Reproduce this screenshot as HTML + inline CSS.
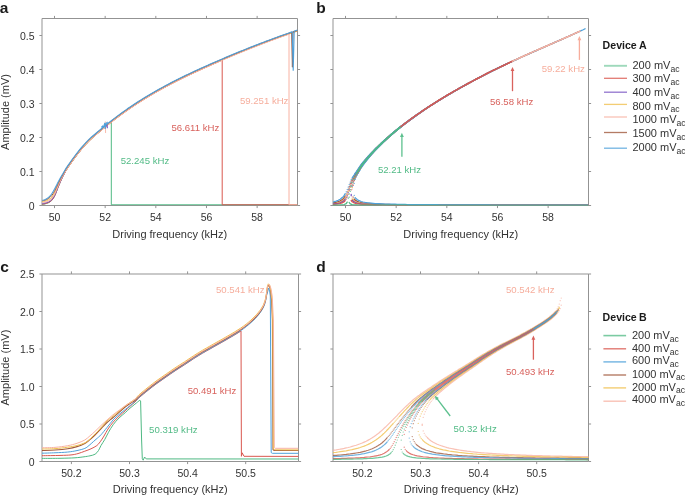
<!DOCTYPE html>
<html><head><meta charset="utf-8"><style>
html,body{margin:0;padding:0;background:#fff;width:685px;height:496px;overflow:hidden}
svg{display:block;will-change:transform}
text{font-family:"Liberation Sans",sans-serif}
</style></head><body>
<svg width="685" height="496" viewBox="0 0 685 496">
<rect width="685" height="496" fill="#fff"/>
<defs><clipPath id="ca"><rect x="42" y="18.5" width="255.5" height="187"/></clipPath><clipPath id="cb"><rect x="333" y="18.5" width="255.5" height="187"/></clipPath><clipPath id="cc"><rect x="42" y="274" width="256.5" height="187.5"/></clipPath><clipPath id="cd"><rect x="333" y="274" width="255.5" height="187.5"/></clipPath></defs>
<g font-family="Liberation Sans, sans-serif">
<text x="-0.3" y="12.9" font-size="15.5" fill="#1a1a1a" text-anchor="start" font-weight="bold" >a</text>
<text x="316.3" y="12.9" font-size="15.5" fill="#1a1a1a" text-anchor="start" font-weight="bold" >b</text>
<text x="0.2" y="272" font-size="15.5" fill="#1a1a1a" text-anchor="start" font-weight="bold" >c</text>
<text x="316.3" y="272.1" font-size="15.5" fill="#1a1a1a" text-anchor="start" font-weight="bold" >d</text>
<line x1="42" y1="18.5" x2="42" y2="205.5" stroke="#939393" stroke-width="1.0" />
<line x1="42" y1="205.5" x2="297.5" y2="205.5" stroke="#939393" stroke-width="1.0" />
<line x1="297.5" y1="18.5" x2="297.5" y2="205.5" stroke="#939393" stroke-width="1.0" />
<line x1="42" y1="18.5" x2="297.5" y2="18.5" stroke="#939393" stroke-width="1.0" />
<line x1="54.5" y1="205.5" x2="54.5" y2="208.1" stroke="#939393" stroke-width="1.0" />
<line x1="54.5" y1="18.5" x2="54.5" y2="15.9" stroke="#939393" stroke-width="1.0" />
<line x1="105.16" y1="205.5" x2="105.16" y2="208.1" stroke="#939393" stroke-width="1.0" />
<line x1="105.16" y1="18.5" x2="105.16" y2="15.9" stroke="#939393" stroke-width="1.0" />
<line x1="155.82" y1="205.5" x2="155.82" y2="208.1" stroke="#939393" stroke-width="1.0" />
<line x1="155.82" y1="18.5" x2="155.82" y2="15.9" stroke="#939393" stroke-width="1.0" />
<line x1="206.48" y1="205.5" x2="206.48" y2="208.1" stroke="#939393" stroke-width="1.0" />
<line x1="206.48" y1="18.5" x2="206.48" y2="15.9" stroke="#939393" stroke-width="1.0" />
<line x1="257.14" y1="205.5" x2="257.14" y2="208.1" stroke="#939393" stroke-width="1.0" />
<line x1="257.14" y1="18.5" x2="257.14" y2="15.9" stroke="#939393" stroke-width="1.0" />
<line x1="42" y1="205.5" x2="39.4" y2="205.5" stroke="#939393" stroke-width="1.0" />
<line x1="297.5" y1="205.5" x2="300.1" y2="205.5" stroke="#939393" stroke-width="1.0" />
<line x1="42" y1="171.5" x2="39.4" y2="171.5" stroke="#939393" stroke-width="1.0" />
<line x1="297.5" y1="171.5" x2="300.1" y2="171.5" stroke="#939393" stroke-width="1.0" />
<line x1="42" y1="137.5" x2="39.4" y2="137.5" stroke="#939393" stroke-width="1.0" />
<line x1="297.5" y1="137.5" x2="300.1" y2="137.5" stroke="#939393" stroke-width="1.0" />
<line x1="42" y1="103.5" x2="39.4" y2="103.5" stroke="#939393" stroke-width="1.0" />
<line x1="297.5" y1="103.5" x2="300.1" y2="103.5" stroke="#939393" stroke-width="1.0" />
<line x1="42" y1="69.5" x2="39.4" y2="69.5" stroke="#939393" stroke-width="1.0" />
<line x1="297.5" y1="69.5" x2="300.1" y2="69.5" stroke="#939393" stroke-width="1.0" />
<line x1="42" y1="35.5" x2="39.4" y2="35.5" stroke="#939393" stroke-width="1.0" />
<line x1="297.5" y1="35.5" x2="300.1" y2="35.5" stroke="#939393" stroke-width="1.0" />
<line x1="333" y1="18.5" x2="333" y2="205.5" stroke="#939393" stroke-width="1.0" />
<line x1="333" y1="205.5" x2="588.5" y2="205.5" stroke="#939393" stroke-width="1.0" />
<line x1="588.5" y1="18.5" x2="588.5" y2="205.5" stroke="#939393" stroke-width="1.0" />
<line x1="333" y1="18.5" x2="588.5" y2="18.5" stroke="#939393" stroke-width="1.0" />
<line x1="345.5" y1="205.5" x2="345.5" y2="208.1" stroke="#939393" stroke-width="1.0" />
<line x1="345.5" y1="18.5" x2="345.5" y2="15.9" stroke="#939393" stroke-width="1.0" />
<line x1="396.16" y1="205.5" x2="396.16" y2="208.1" stroke="#939393" stroke-width="1.0" />
<line x1="396.16" y1="18.5" x2="396.16" y2="15.9" stroke="#939393" stroke-width="1.0" />
<line x1="446.82" y1="205.5" x2="446.82" y2="208.1" stroke="#939393" stroke-width="1.0" />
<line x1="446.82" y1="18.5" x2="446.82" y2="15.9" stroke="#939393" stroke-width="1.0" />
<line x1="497.48" y1="205.5" x2="497.48" y2="208.1" stroke="#939393" stroke-width="1.0" />
<line x1="497.48" y1="18.5" x2="497.48" y2="15.9" stroke="#939393" stroke-width="1.0" />
<line x1="548.14" y1="205.5" x2="548.14" y2="208.1" stroke="#939393" stroke-width="1.0" />
<line x1="548.14" y1="18.5" x2="548.14" y2="15.9" stroke="#939393" stroke-width="1.0" />
<line x1="333" y1="205.5" x2="330.4" y2="205.5" stroke="#939393" stroke-width="1.0" />
<line x1="588.5" y1="205.5" x2="591.1" y2="205.5" stroke="#939393" stroke-width="1.0" />
<line x1="333" y1="171.5" x2="330.4" y2="171.5" stroke="#939393" stroke-width="1.0" />
<line x1="588.5" y1="171.5" x2="591.1" y2="171.5" stroke="#939393" stroke-width="1.0" />
<line x1="333" y1="137.5" x2="330.4" y2="137.5" stroke="#939393" stroke-width="1.0" />
<line x1="588.5" y1="137.5" x2="591.1" y2="137.5" stroke="#939393" stroke-width="1.0" />
<line x1="333" y1="103.5" x2="330.4" y2="103.5" stroke="#939393" stroke-width="1.0" />
<line x1="588.5" y1="103.5" x2="591.1" y2="103.5" stroke="#939393" stroke-width="1.0" />
<line x1="333" y1="69.5" x2="330.4" y2="69.5" stroke="#939393" stroke-width="1.0" />
<line x1="588.5" y1="69.5" x2="591.1" y2="69.5" stroke="#939393" stroke-width="1.0" />
<line x1="333" y1="35.5" x2="330.4" y2="35.5" stroke="#939393" stroke-width="1.0" />
<line x1="588.5" y1="35.5" x2="591.1" y2="35.5" stroke="#939393" stroke-width="1.0" />
<text x="54.5" y="220.9" font-size="10.5" fill="#333333" text-anchor="middle" font-weight="normal" >50</text>
<text x="345.5" y="220.9" font-size="10.5" fill="#333333" text-anchor="middle" font-weight="normal" >50</text>
<text x="105.16" y="220.9" font-size="10.5" fill="#333333" text-anchor="middle" font-weight="normal" >52</text>
<text x="396.16" y="220.9" font-size="10.5" fill="#333333" text-anchor="middle" font-weight="normal" >52</text>
<text x="155.82" y="220.9" font-size="10.5" fill="#333333" text-anchor="middle" font-weight="normal" >54</text>
<text x="446.82" y="220.9" font-size="10.5" fill="#333333" text-anchor="middle" font-weight="normal" >54</text>
<text x="206.48" y="220.9" font-size="10.5" fill="#333333" text-anchor="middle" font-weight="normal" >56</text>
<text x="497.48" y="220.9" font-size="10.5" fill="#333333" text-anchor="middle" font-weight="normal" >56</text>
<text x="257.14" y="220.9" font-size="10.5" fill="#333333" text-anchor="middle" font-weight="normal" >58</text>
<text x="548.14" y="220.9" font-size="10.5" fill="#333333" text-anchor="middle" font-weight="normal" >58</text>
<text x="34.5" y="209.8" font-size="10.5" fill="#333333" text-anchor="end" font-weight="normal" >0</text>
<text x="34.5" y="175.8" font-size="10.5" fill="#333333" text-anchor="end" font-weight="normal" >0.1</text>
<text x="34.5" y="141.8" font-size="10.5" fill="#333333" text-anchor="end" font-weight="normal" >0.2</text>
<text x="34.5" y="107.8" font-size="10.5" fill="#333333" text-anchor="end" font-weight="normal" >0.3</text>
<text x="34.5" y="73.8" font-size="10.5" fill="#333333" text-anchor="end" font-weight="normal" >0.4</text>
<text x="34.5" y="39.8" font-size="10.5" fill="#333333" text-anchor="end" font-weight="normal" >0.5</text>
<text x="169.75" y="237.8" font-size="11" fill="#333333" text-anchor="middle" font-weight="normal" >Driving frequency (kHz)</text>
<text x="460.75" y="237.8" font-size="11" fill="#333333" text-anchor="middle" font-weight="normal" >Driving frequency (kHz)</text>
<text transform="translate(8.9,112) rotate(-90)" font-size="11" fill="#333333" text-anchor="middle">Amplitude (mV)</text>
<line x1="42" y1="274" x2="42" y2="461.5" stroke="#939393" stroke-width="1.0" />
<line x1="42" y1="461.5" x2="298.5" y2="461.5" stroke="#939393" stroke-width="1.0" />
<line x1="298.5" y1="274" x2="298.5" y2="461.5" stroke="#939393" stroke-width="1.0" />
<line x1="42" y1="274" x2="298.5" y2="274" stroke="#939393" stroke-width="1.0" />
<line x1="71.4" y1="461.5" x2="71.4" y2="464.1" stroke="#939393" stroke-width="1.0" />
<line x1="71.4" y1="274" x2="71.4" y2="271.4" stroke="#939393" stroke-width="1.0" />
<line x1="129.5" y1="461.5" x2="129.5" y2="464.1" stroke="#939393" stroke-width="1.0" />
<line x1="129.5" y1="274" x2="129.5" y2="271.4" stroke="#939393" stroke-width="1.0" />
<line x1="187.6" y1="461.5" x2="187.6" y2="464.1" stroke="#939393" stroke-width="1.0" />
<line x1="187.6" y1="274" x2="187.6" y2="271.4" stroke="#939393" stroke-width="1.0" />
<line x1="245.7" y1="461.5" x2="245.7" y2="464.1" stroke="#939393" stroke-width="1.0" />
<line x1="245.7" y1="274" x2="245.7" y2="271.4" stroke="#939393" stroke-width="1.0" />
<line x1="42" y1="461.5" x2="39.4" y2="461.5" stroke="#939393" stroke-width="1.0" />
<line x1="298.5" y1="461.5" x2="301.1" y2="461.5" stroke="#939393" stroke-width="1.0" />
<line x1="42" y1="424" x2="39.4" y2="424" stroke="#939393" stroke-width="1.0" />
<line x1="298.5" y1="424" x2="301.1" y2="424" stroke="#939393" stroke-width="1.0" />
<line x1="42" y1="386.5" x2="39.4" y2="386.5" stroke="#939393" stroke-width="1.0" />
<line x1="298.5" y1="386.5" x2="301.1" y2="386.5" stroke="#939393" stroke-width="1.0" />
<line x1="42" y1="349" x2="39.4" y2="349" stroke="#939393" stroke-width="1.0" />
<line x1="298.5" y1="349" x2="301.1" y2="349" stroke="#939393" stroke-width="1.0" />
<line x1="42" y1="311.5" x2="39.4" y2="311.5" stroke="#939393" stroke-width="1.0" />
<line x1="298.5" y1="311.5" x2="301.1" y2="311.5" stroke="#939393" stroke-width="1.0" />
<line x1="42" y1="274" x2="39.4" y2="274" stroke="#939393" stroke-width="1.0" />
<line x1="298.5" y1="274" x2="301.1" y2="274" stroke="#939393" stroke-width="1.0" />
<line x1="333" y1="274" x2="333" y2="461.5" stroke="#939393" stroke-width="1.0" />
<line x1="333" y1="461.5" x2="588.5" y2="461.5" stroke="#939393" stroke-width="1.0" />
<line x1="588.5" y1="274" x2="588.5" y2="461.5" stroke="#939393" stroke-width="1.0" />
<line x1="333" y1="274" x2="588.5" y2="274" stroke="#939393" stroke-width="1.0" />
<line x1="362.4" y1="461.5" x2="362.4" y2="464.1" stroke="#939393" stroke-width="1.0" />
<line x1="362.4" y1="274" x2="362.4" y2="271.4" stroke="#939393" stroke-width="1.0" />
<line x1="420.5" y1="461.5" x2="420.5" y2="464.1" stroke="#939393" stroke-width="1.0" />
<line x1="420.5" y1="274" x2="420.5" y2="271.4" stroke="#939393" stroke-width="1.0" />
<line x1="478.6" y1="461.5" x2="478.6" y2="464.1" stroke="#939393" stroke-width="1.0" />
<line x1="478.6" y1="274" x2="478.6" y2="271.4" stroke="#939393" stroke-width="1.0" />
<line x1="536.7" y1="461.5" x2="536.7" y2="464.1" stroke="#939393" stroke-width="1.0" />
<line x1="536.7" y1="274" x2="536.7" y2="271.4" stroke="#939393" stroke-width="1.0" />
<line x1="333" y1="461.5" x2="330.4" y2="461.5" stroke="#939393" stroke-width="1.0" />
<line x1="588.5" y1="461.5" x2="591.1" y2="461.5" stroke="#939393" stroke-width="1.0" />
<line x1="333" y1="424" x2="330.4" y2="424" stroke="#939393" stroke-width="1.0" />
<line x1="588.5" y1="424" x2="591.1" y2="424" stroke="#939393" stroke-width="1.0" />
<line x1="333" y1="386.5" x2="330.4" y2="386.5" stroke="#939393" stroke-width="1.0" />
<line x1="588.5" y1="386.5" x2="591.1" y2="386.5" stroke="#939393" stroke-width="1.0" />
<line x1="333" y1="349" x2="330.4" y2="349" stroke="#939393" stroke-width="1.0" />
<line x1="588.5" y1="349" x2="591.1" y2="349" stroke="#939393" stroke-width="1.0" />
<line x1="333" y1="311.5" x2="330.4" y2="311.5" stroke="#939393" stroke-width="1.0" />
<line x1="588.5" y1="311.5" x2="591.1" y2="311.5" stroke="#939393" stroke-width="1.0" />
<line x1="333" y1="274" x2="330.4" y2="274" stroke="#939393" stroke-width="1.0" />
<line x1="588.5" y1="274" x2="591.1" y2="274" stroke="#939393" stroke-width="1.0" />
<text x="71.4" y="476.9" font-size="10.5" fill="#333333" text-anchor="middle" font-weight="normal" >50.2</text>
<text x="362.4" y="476.9" font-size="10.5" fill="#333333" text-anchor="middle" font-weight="normal" >50.2</text>
<text x="129.5" y="476.9" font-size="10.5" fill="#333333" text-anchor="middle" font-weight="normal" >50.3</text>
<text x="420.5" y="476.9" font-size="10.5" fill="#333333" text-anchor="middle" font-weight="normal" >50.3</text>
<text x="187.6" y="476.9" font-size="10.5" fill="#333333" text-anchor="middle" font-weight="normal" >50.4</text>
<text x="478.6" y="476.9" font-size="10.5" fill="#333333" text-anchor="middle" font-weight="normal" >50.4</text>
<text x="245.7" y="476.9" font-size="10.5" fill="#333333" text-anchor="middle" font-weight="normal" >50.5</text>
<text x="536.7" y="476.9" font-size="10.5" fill="#333333" text-anchor="middle" font-weight="normal" >50.5</text>
<text x="34.5" y="465.8" font-size="10.5" fill="#333333" text-anchor="end" font-weight="normal" >0</text>
<text x="34.5" y="428.3" font-size="10.5" fill="#333333" text-anchor="end" font-weight="normal" >0.5</text>
<text x="34.5" y="390.8" font-size="10.5" fill="#333333" text-anchor="end" font-weight="normal" >1.0</text>
<text x="34.5" y="353.3" font-size="10.5" fill="#333333" text-anchor="end" font-weight="normal" >1.5</text>
<text x="34.5" y="315.8" font-size="10.5" fill="#333333" text-anchor="end" font-weight="normal" >2.0</text>
<text x="34.5" y="278.3" font-size="10.5" fill="#333333" text-anchor="end" font-weight="normal" >2.5</text>
<text x="170.25" y="493.1" font-size="11" fill="#333333" text-anchor="middle" font-weight="normal" >Driving frequency (kHz)</text>
<text x="461.25" y="493.1" font-size="11" fill="#333333" text-anchor="middle" font-weight="normal" >Driving frequency (kHz)</text>
<text transform="translate(8.9,367.6) rotate(-90)" font-size="11" fill="#333333" text-anchor="middle">Amplitude (mV)</text>
<g clip-path="url(#ca)">
<path d="M42.3,204.6 C42.75,204.48 43.97,204.23 45,203.91 C46.03,203.59 47.38,203.26 48.5,202.69 C49.62,202.12 50.73,201.5 51.7,200.49 C52.67,199.47 53.55,197.96 54.3,196.6 C55.05,195.24 55.57,193.87 56.2,192.3 C56.83,190.73 57.45,188.83 58.1,187.2 C58.75,185.57 59.35,184.22 60.1,182.5 C60.85,180.78 61.57,178.96 62.6,176.9 C63.63,174.84 65.18,172.02 66.3,170.14 C67.42,168.26 68.3,167.1 69.3,165.63 C70.3,164.16 71.3,162.74 72.3,161.34 C73.3,159.94 74.3,158.56 75.3,157.22 C76.3,155.89 77.3,154.59 78.3,153.32 C79.3,152.04 80.3,150.8 81.3,149.6 C82.3,148.4 83.3,147.23 84.3,146.11 C85.3,144.98 86.3,143.9 87.3,142.87 C88.3,141.83 89.3,140.84 90.3,139.88 C91.3,138.93 92.3,138.03 93.3,137.14 C94.3,136.25 95.3,135.4 96.3,134.55 C97.3,133.69 98.3,132.86 99.3,132.02 C100.3,131.18 101.3,130.35 102.3,129.53 C103.3,128.7 104.3,127.88 105.3,127.07 C106.3,126.25 107.3,125.55 108.3,124.64 C109.3,123.74 110.8,122.13 111.3,121.63 L111.3,204.8 L297.5,204.8" fill="none" stroke="#4fb983" stroke-width="1.0"/>
<path d="M42.3,204.3 C42.75,204.2 43.97,203.97 45,203.68 C46.03,203.39 47.38,203.09 48.5,202.55 C49.62,202.01 50.73,201.41 51.7,200.42 C52.67,199.43 53.55,197.95 54.3,196.6 C55.05,195.25 55.57,193.87 56.2,192.3 C56.83,190.73 57.45,188.83 58.1,187.2 C58.75,185.57 59.35,184.22 60.1,182.5 C60.85,180.78 61.57,178.96 62.6,176.9 C63.63,174.84 65.18,172.02 66.3,170.14 C67.42,168.26 68.3,167.1 69.3,165.63 C70.3,164.16 71.3,162.74 72.3,161.34 C73.3,159.94 74.3,158.56 75.3,157.22 C76.3,155.89 77.3,154.59 78.3,153.32 C79.3,152.04 80.3,150.8 81.3,149.6 C82.3,148.4 83.3,147.23 84.3,146.11 C85.3,144.98 86.3,143.9 87.3,142.87 C88.3,141.83 89.3,140.84 90.3,139.88 C91.3,138.93 92.3,138.03 93.3,137.14 C94.3,136.25 95.3,135.4 96.3,134.55 C97.3,133.69 98.3,132.86 99.3,132.02 C100.3,131.18 101.3,130.35 102.3,129.53 C103.3,128.7 104.3,127.88 105.3,127.07 C106.3,126.25 107.3,125.44 108.3,124.64 C109.3,123.84 110.3,123.05 111.3,122.26 C112.3,121.47 113.3,120.7 114.3,119.93 C115.3,119.16 116.3,118.39 117.3,117.64 C118.3,116.89 119.3,116.14 120.3,115.41 C121.3,114.67 122.3,113.94 123.3,113.22 C124.3,112.5 125.3,111.79 126.3,111.08 C127.3,110.38 128.3,109.68 129.3,108.99 C130.3,108.3 131.3,107.62 132.3,106.95 C133.3,106.27 134.3,105.61 135.3,104.95 C136.3,104.29 137.3,103.63 138.3,102.99 C139.3,102.34 140.3,101.7 141.3,101.07 C142.3,100.44 143.3,99.81 144.3,99.19 C145.3,98.57 146.3,97.96 147.3,97.35 C148.3,96.75 149.3,96.15 150.3,95.55 C151.3,94.96 152.3,94.37 153.3,93.79 C154.3,93.21 155.3,92.63 156.3,92.06 C157.3,91.49 158.3,90.92 159.3,90.36 C160.3,89.8 161.3,89.25 162.3,88.7 C163.3,88.15 164.3,87.6 165.3,87.07 C166.3,86.53 167.3,85.99 168.3,85.46 C169.3,84.93 170.3,84.41 171.3,83.88 C172.3,83.36 173.3,82.85 174.3,82.34 C175.3,81.82 176.3,81.32 177.3,80.81 C178.3,80.31 179.3,79.81 180.3,79.31 C181.3,78.82 182.3,78.32 183.3,77.84 C184.3,77.35 185.3,76.86 186.3,76.38 C187.3,75.9 188.3,75.42 189.3,74.95 C190.3,74.47 191.3,74 192.3,73.53 C193.3,73.06 194.3,72.59 195.3,72.13 C196.3,71.67 197.3,71.21 198.3,70.75 C199.3,70.29 200.3,69.84 201.3,69.38 C202.3,68.93 203.3,68.48 204.3,68.03 C205.3,67.58 206.3,67.13 207.3,66.69 C208.3,66.24 209.3,65.8 210.3,65.36 C211.3,64.91 212.3,64.47 213.3,64.03 C214.3,63.6 215.3,63.16 216.3,62.72 C217.3,62.29 218.32,61.9 219.3,61.42 C220.28,60.94 221.72,60.09 222.2,59.83 L222.2,204.8 L297.5,204.8" fill="none" stroke="#d9574f" stroke-width="1.0"/>
<path d="M42.3,203.62 C42.75,203.53 43.97,203.33 45,203.06 C46.03,202.78 47.38,202.5 48.5,201.95 C49.62,201.41 50.73,200.79 51.7,199.81 C52.67,198.82 53.55,197.37 54.3,196.03 C55.05,194.69 55.57,193.31 56.2,191.77 C56.83,190.23 57.45,188.39 58.1,186.79 C58.75,185.19 59.35,183.85 60.1,182.16 C60.85,180.48 61.57,178.73 62.6,176.67 C63.63,174.62 65.18,171.73 66.3,169.84 C67.42,167.95 68.3,166.8 69.3,165.33 C70.3,163.86 71.3,162.44 72.3,161.04 C73.3,159.64 74.3,158.26 75.3,156.92 C76.3,155.59 77.3,154.29 78.3,153.02 C79.3,151.74 80.3,150.5 81.3,149.3 C82.3,148.1 83.3,146.93 84.3,145.81 C85.3,144.68 86.3,143.6 87.3,142.57 C88.3,141.53 89.3,140.54 90.3,139.58 C91.3,138.63 92.3,137.73 93.3,136.84 C94.3,135.95 95.3,135.1 96.3,134.25 C97.3,133.39 98.3,132.56 99.3,131.72 C100.3,130.88 101.3,130.05 102.3,129.23 C103.3,128.4 104.3,127.58 105.3,126.77 C106.3,125.95 107.3,125.14 108.3,124.34 C109.3,123.54 110.3,122.75 111.3,121.96 C112.3,121.17 113.3,120.4 114.3,119.63 C115.3,118.86 116.3,118.09 117.3,117.34 C118.3,116.59 119.3,115.84 120.3,115.11 C121.3,114.37 122.3,113.64 123.3,112.92 C124.3,112.2 125.3,111.49 126.3,110.78 C127.3,110.08 128.3,109.38 129.3,108.69 C130.3,108 131.3,107.32 132.3,106.65 C133.3,105.97 134.3,105.31 135.3,104.65 C136.3,103.99 137.3,103.33 138.3,102.69 C139.3,102.04 140.3,101.4 141.3,100.77 C142.3,100.14 143.3,99.51 144.3,98.89 C145.3,98.27 146.3,97.66 147.3,97.05 C148.3,96.45 149.3,95.85 150.3,95.25 C151.3,94.66 152.3,94.07 153.3,93.49 C154.3,92.91 155.3,92.33 156.3,91.76 C157.3,91.19 158.3,90.62 159.3,90.06 C160.3,89.5 161.3,88.95 162.3,88.4 C163.3,87.85 164.3,87.3 165.3,86.77 C166.3,86.23 167.3,85.69 168.3,85.16 C169.3,84.63 170.3,84.11 171.3,83.58 C172.3,83.06 173.3,82.55 174.3,82.04 C175.3,81.52 176.3,81.02 177.3,80.51 C178.3,80.01 179.3,79.51 180.3,79.01 C181.3,78.52 182.3,78.02 183.3,77.54 C184.3,77.05 185.3,76.56 186.3,76.08 C187.3,75.6 188.3,75.12 189.3,74.65 C190.3,74.17 191.3,73.7 192.3,73.23 C193.3,72.76 194.3,72.29 195.3,71.83 C196.3,71.37 197.3,70.91 198.3,70.45 C199.3,69.99 200.3,69.54 201.3,69.08 C202.3,68.63 203.3,68.18 204.3,67.73 C205.3,67.28 206.3,66.83 207.3,66.39 C208.3,65.94 209.3,65.5 210.3,65.06 C211.3,64.61 212.3,64.17 213.3,63.73 C214.3,63.3 215.3,62.86 216.3,62.42 C217.3,61.99 218.3,61.55 219.3,61.12 C220.3,60.69 221.3,60.26 222.3,59.83 C223.3,59.4 224.3,58.97 225.3,58.55 C226.3,58.12 227.3,57.7 228.3,57.27 C229.3,56.85 230.3,56.43 231.3,56.01 C232.3,55.59 233.3,55.18 234.3,54.76 C235.3,54.34 236.3,53.93 237.3,53.52 C238.3,53.1 239.3,52.69 240.3,52.29 C241.3,51.88 242.3,51.47 243.3,51.06 C244.3,50.66 245.3,50.25 246.3,49.85 C247.3,49.45 248.3,49.05 249.3,48.65 C250.3,48.25 251.3,47.86 252.3,47.46 C253.3,47.07 254.3,46.67 255.3,46.28 C256.3,45.89 257.3,45.5 258.3,45.11 C259.3,44.73 260.3,44.34 261.3,43.96 C262.3,43.57 263.3,43.19 264.3,42.81 C265.3,42.43 266.3,42.05 267.3,41.67 C268.3,41.3 269.3,40.92 270.3,40.55 C271.3,40.18 272.3,39.81 273.3,39.44 C274.3,39.07 275.3,38.7 276.3,38.33 C277.3,37.97 278.3,37.61 279.3,37.24 C280.3,36.88 281.3,36.52 282.3,36.17 C283.3,35.81 284.3,35.45 285.3,35.1 C286.3,34.75 287.3,34.39 288.3,34.05 C289.3,33.7 290.3,33.35 291.3,33 C292.3,32.66 293.3,32.31 294.3,31.97 C295.3,31.63 296.77,31.17 297.3,30.95 C297.83,30.74 297.47,30.73 297.5,30.68" fill="none" stroke="#7650c0" stroke-width="1.0" stroke-linejoin="round" />
<path d="M42.3,201.67 C42.75,201.58 43.97,201.43 45,201.13 C46.03,200.83 47.38,200.49 48.5,199.86 C49.62,199.24 50.73,198.41 51.7,197.36 C52.67,196.31 53.55,194.86 54.3,193.55 C55.05,192.24 55.57,190.92 56.2,189.49 C56.83,188.07 57.45,186.47 58.1,185 C58.75,183.54 59.35,182.25 60.1,180.7 C60.85,179.15 61.57,177.48 62.6,175.69 C63.63,173.9 65.18,171.65 66.3,169.94 C67.42,168.23 68.3,166.9 69.3,165.43 C70.3,163.96 71.3,162.54 72.3,161.14 C73.3,159.74 74.3,158.36 75.3,157.02 C76.3,155.69 77.3,154.39 78.3,153.12 C79.3,151.84 80.3,150.6 81.3,149.4 C82.3,148.2 83.3,147.03 84.3,145.91 C85.3,144.78 86.3,143.7 87.3,142.67 C88.3,141.63 89.3,140.64 90.3,139.68 C91.3,138.73 92.3,137.83 93.3,136.94 C94.3,136.05 95.3,135.2 96.3,134.35 C97.3,133.49 98.3,132.66 99.3,131.82 C100.3,130.98 101.3,130.15 102.3,129.33 C103.3,128.5 104.3,127.68 105.3,126.87 C106.3,126.05 107.3,125.24 108.3,124.44 C109.3,123.64 110.3,122.85 111.3,122.06 C112.3,121.27 113.3,120.5 114.3,119.73 C115.3,118.96 116.3,118.19 117.3,117.44 C118.3,116.69 119.3,115.94 120.3,115.21 C121.3,114.47 122.3,113.74 123.3,113.02 C124.3,112.3 125.3,111.59 126.3,110.88 C127.3,110.18 128.3,109.48 129.3,108.79 C130.3,108.1 131.3,107.42 132.3,106.75 C133.3,106.07 134.3,105.41 135.3,104.75 C136.3,104.09 137.3,103.43 138.3,102.79 C139.3,102.14 140.3,101.5 141.3,100.87 C142.3,100.24 143.3,99.61 144.3,98.99 C145.3,98.37 146.3,97.76 147.3,97.15 C148.3,96.55 149.3,95.95 150.3,95.35 C151.3,94.76 152.3,94.17 153.3,93.59 C154.3,93.01 155.3,92.43 156.3,91.86 C157.3,91.29 158.3,90.72 159.3,90.16 C160.3,89.6 161.3,89.05 162.3,88.5 C163.3,87.95 164.3,87.4 165.3,86.87 C166.3,86.33 167.3,85.79 168.3,85.26 C169.3,84.73 170.3,84.21 171.3,83.68 C172.3,83.16 173.3,82.65 174.3,82.14 C175.3,81.62 176.3,81.12 177.3,80.61 C178.3,80.11 179.3,79.61 180.3,79.11 C181.3,78.62 182.3,78.12 183.3,77.64 C184.3,77.15 185.3,76.66 186.3,76.18 C187.3,75.7 188.3,75.22 189.3,74.75 C190.3,74.27 191.3,73.8 192.3,73.33 C193.3,72.86 194.3,72.39 195.3,71.93 C196.3,71.47 197.3,71.01 198.3,70.55 C199.3,70.09 200.3,69.64 201.3,69.18 C202.3,68.73 203.3,68.28 204.3,67.83 C205.3,67.38 206.3,66.93 207.3,66.49 C208.3,66.04 209.3,65.6 210.3,65.16 C211.3,64.71 212.3,64.27 213.3,63.83 C214.3,63.4 215.3,62.96 216.3,62.52 C217.3,62.09 218.3,61.65 219.3,61.22 C220.3,60.79 221.3,60.36 222.3,59.93 C223.3,59.5 224.3,59.07 225.3,58.65 C226.3,58.22 227.3,57.8 228.3,57.37 C229.3,56.95 230.3,56.53 231.3,56.11 C232.3,55.69 233.3,55.28 234.3,54.86 C235.3,54.44 236.3,54.03 237.3,53.62 C238.3,53.2 239.3,52.79 240.3,52.39 C241.3,51.98 242.3,51.57 243.3,51.16 C244.3,50.76 245.3,50.35 246.3,49.95 C247.3,49.55 248.3,49.15 249.3,48.75 C250.3,48.35 251.3,47.96 252.3,47.56 C253.3,47.17 254.3,46.77 255.3,46.38 C256.3,45.99 257.3,45.6 258.3,45.21 C259.3,44.83 260.3,44.44 261.3,44.06 C262.3,43.67 263.3,43.29 264.3,42.91 C265.3,42.53 266.3,42.15 267.3,41.77 C268.3,41.4 269.3,41.02 270.3,40.65 C271.3,40.28 272.3,39.91 273.3,39.54 C274.3,39.17 275.3,38.8 276.3,38.43 C277.3,38.07 278.3,37.71 279.3,37.34 C280.3,36.98 281.3,36.62 282.3,36.27 C283.3,35.91 284.3,35.55 285.3,35.2 C286.3,34.85 287.3,34.49 288.3,34.15 C289.3,33.8 290.3,33.45 291.3,33.1 C292.3,32.76 293.3,32.41 294.3,32.07 C295.3,31.73 296.77,31.27 297.3,31.05 C297.83,30.84 297.47,30.83 297.5,30.78" fill="none" stroke="#f0c050" stroke-width="1.0" stroke-linejoin="round" />
<path d="M42.3,202.61 C42.75,202.52 43.97,202.36 45,202.08 C46.03,201.8 47.38,201.51 48.5,200.94 C49.62,200.36 50.73,199.66 51.7,198.65 C52.67,197.65 53.55,196.21 54.3,194.89 C55.05,193.56 55.57,192.21 56.2,190.72 C56.83,189.23 57.45,187.5 58.1,185.96 C58.75,184.43 59.35,183.11 60.1,181.49 C60.85,179.86 61.57,178.09 62.6,176.22 C63.63,174.35 65.18,171.99 66.3,170.24 C67.42,168.49 68.3,167.2 69.3,165.73 C70.3,164.26 71.3,162.84 72.3,161.44 C73.3,160.04 74.3,158.66 75.3,157.32 C76.3,155.99 77.3,154.69 78.3,153.42 C79.3,152.14 80.3,150.9 81.3,149.7 C82.3,148.5 83.3,147.33 84.3,146.21 C85.3,145.08 86.3,144 87.3,142.97 C88.3,141.93 89.3,140.94 90.3,139.98 C91.3,139.03 92.3,138.13 93.3,137.24 C94.3,136.35 95.3,135.5 96.3,134.65 C97.3,133.79 98.3,132.96 99.3,132.12 C100.3,131.28 101.3,130.45 102.3,129.63 C103.3,128.8 104.3,127.98 105.3,127.17 C106.3,126.35 107.3,125.54 108.3,124.74 C109.3,123.94 110.3,123.15 111.3,122.36 C112.3,121.57 113.3,120.8 114.3,120.03 C115.3,119.26 116.3,118.49 117.3,117.74 C118.3,116.99 119.3,116.24 120.3,115.51 C121.3,114.77 122.3,114.04 123.3,113.32 C124.3,112.6 125.3,111.89 126.3,111.18 C127.3,110.48 128.3,109.78 129.3,109.09 C130.3,108.4 131.3,107.72 132.3,107.05 C133.3,106.37 134.3,105.71 135.3,105.05 C136.3,104.39 137.3,103.73 138.3,103.09 C139.3,102.44 140.3,101.8 141.3,101.17 C142.3,100.54 143.3,99.91 144.3,99.29 C145.3,98.67 146.3,98.06 147.3,97.45 C148.3,96.85 149.3,96.25 150.3,95.65 C151.3,95.06 152.3,94.47 153.3,93.89 C154.3,93.31 155.3,92.73 156.3,92.16 C157.3,91.59 158.3,91.02 159.3,90.46 C160.3,89.9 161.3,89.35 162.3,88.8 C163.3,88.25 164.3,87.7 165.3,87.17 C166.3,86.63 167.3,86.09 168.3,85.56 C169.3,85.03 170.3,84.51 171.3,83.98 C172.3,83.46 173.3,82.95 174.3,82.44 C175.3,81.92 176.3,81.42 177.3,80.91 C178.3,80.41 179.3,79.91 180.3,79.41 C181.3,78.92 182.3,78.42 183.3,77.94 C184.3,77.45 185.3,76.96 186.3,76.48 C187.3,76 188.3,75.52 189.3,75.05 C190.3,74.57 191.3,74.1 192.3,73.63 C193.3,73.16 194.3,72.69 195.3,72.23 C196.3,71.77 197.3,71.31 198.3,70.85 C199.3,70.39 200.3,69.94 201.3,69.48 C202.3,69.03 203.3,68.58 204.3,68.13 C205.3,67.68 206.3,67.23 207.3,66.79 C208.3,66.34 209.3,65.9 210.3,65.46 C211.3,65.01 212.3,64.57 213.3,64.13 C214.3,63.7 215.3,63.26 216.3,62.82 C217.3,62.39 218.3,61.95 219.3,61.52 C220.3,61.09 221.3,60.66 222.3,60.23 C223.3,59.8 224.3,59.37 225.3,58.95 C226.3,58.52 227.3,58.1 228.3,57.67 C229.3,57.25 230.3,56.83 231.3,56.41 C232.3,55.99 233.3,55.58 234.3,55.16 C235.3,54.74 236.3,54.33 237.3,53.92 C238.3,53.5 239.3,53.09 240.3,52.69 C241.3,52.28 242.3,51.87 243.3,51.46 C244.3,51.06 245.3,50.65 246.3,50.25 C247.3,49.85 248.3,49.45 249.3,49.05 C250.3,48.65 251.3,48.26 252.3,47.86 C253.3,47.47 254.3,47.07 255.3,46.68 C256.3,46.29 257.3,45.9 258.3,45.51 C259.3,45.13 260.3,44.74 261.3,44.36 C262.3,43.97 263.3,43.59 264.3,43.21 C265.3,42.83 266.3,42.45 267.3,42.07 C268.3,41.7 269.3,41.32 270.3,40.95 C271.3,40.58 272.3,40.21 273.3,39.84 C274.3,39.47 275.3,39.1 276.3,38.73 C277.3,38.37 278.3,38.01 279.3,37.64 C280.3,37.28 281.3,36.92 282.3,36.57 C283.3,36.21 284.3,35.85 285.3,35.5 C286.3,35.15 287.68,34.71 288.3,34.45 C288.92,34.18 288.88,34.01 289,33.92 L289,204.8 L297.5,204.8" fill="none" stroke="#f8b2a2" stroke-width="1.0"/>
<path d="M42.3,200.79 C42.75,200.68 43.97,200.51 45,200.13 C46.03,199.76 47.38,199.31 48.5,198.56 C49.62,197.8 50.73,196.76 51.7,195.61 C52.67,194.46 53.55,192.96 54.3,191.65 C55.05,190.34 55.57,189.07 56.2,187.74 C56.83,186.4 57.45,184.99 58.1,183.63 C58.75,182.27 59.35,181.02 60.1,179.58 C60.85,178.13 61.57,176.81 62.6,174.93 C63.63,173.06 65.18,170.13 66.3,168.3 C67.42,166.47 68.3,165.38 69.3,163.94 C70.3,162.5 71.3,161.06 72.3,159.67 C73.3,158.27 74.3,156.92 75.3,155.59 C76.3,154.27 77.3,152.99 78.3,151.73 C79.3,150.47 80.3,149.24 81.3,148.05 C82.3,146.87 83.3,145.72 84.3,144.61 C85.3,143.51 86.3,142.45 87.3,141.43 C88.3,140.41 89.3,139.44 90.3,138.5 C91.3,137.57 92.3,136.68 93.3,135.81 C94.3,134.93 95.3,134.09 96.3,133.24 C97.3,132.4 98.3,131.56 99.3,130.73 C100.3,129.89 101.3,129.06 102.3,128.24 C103.3,127.41 104.3,126.6 105.3,125.78 C106.3,124.97 107.3,124.17 108.3,123.37 C109.3,122.57 110.3,121.78 111.3,121 C112.3,120.21 113.3,119.44 114.3,118.67 C115.3,117.91 116.3,117.15 117.3,116.4 C118.3,115.65 119.3,114.91 120.3,114.17 C121.3,113.44 122.3,112.72 123.3,112 C124.3,111.28 125.3,110.57 126.3,109.87 C127.3,109.17 128.3,108.48 129.3,107.79 C130.3,107.11 131.3,106.43 132.3,105.76 C133.3,105.09 134.3,104.42 135.3,103.76 C136.3,103.11 137.3,102.46 138.3,101.82 C139.3,101.17 140.3,100.54 141.3,99.91 C142.3,99.28 143.3,98.66 144.3,98.04 C145.3,97.42 146.3,96.81 147.3,96.21 C148.3,95.61 149.3,95.01 150.3,94.42 C151.3,93.82 152.3,93.24 153.3,92.66 C154.3,92.08 155.3,91.51 156.3,90.94 C157.3,90.37 158.3,89.81 159.3,89.25 C160.3,88.69 161.3,88.14 162.3,87.59 C163.3,87.04 164.3,86.5 165.3,85.96 C166.3,85.43 167.3,84.89 168.3,84.37 C169.3,83.84 170.3,83.31 171.3,82.8 C172.3,82.28 173.3,81.76 174.3,81.25 C175.3,80.74 176.3,80.24 177.3,79.73 C178.3,79.23 179.3,78.73 180.3,78.24 C181.3,77.74 182.3,77.25 183.3,76.77 C184.3,76.28 185.3,75.8 186.3,75.32 C187.3,74.84 188.3,74.36 189.3,73.89 C190.3,73.41 191.3,72.94 192.3,72.47 C193.3,72.01 194.3,71.54 195.3,71.08 C196.3,70.62 197.3,70.16 198.3,69.7 C199.3,69.24 200.3,68.79 201.3,68.34 C202.3,67.88 203.3,67.43 204.3,66.99 C205.3,66.54 206.3,66.09 207.3,65.65 C208.3,65.2 209.3,64.76 210.3,64.32 C211.3,63.88 212.3,63.44 213.3,63 C214.3,62.56 215.3,62.12 216.3,61.69 C217.3,61.26 218.3,60.82 219.3,60.39 C220.3,59.96 221.3,59.53 222.3,59.1 C223.3,58.67 224.3,58.25 225.3,57.82 C226.3,57.39 227.3,56.97 228.3,56.55 C229.3,56.13 230.3,55.71 231.3,55.29 C232.3,54.87 233.3,54.45 234.3,54.04 C235.3,53.62 236.3,53.21 237.3,52.8 C238.3,52.39 239.3,51.98 240.3,51.57 C241.3,51.16 242.3,50.75 243.3,50.35 C244.3,49.94 245.3,49.54 246.3,49.14 C247.3,48.74 248.3,48.34 249.3,47.94 C250.3,47.54 251.3,47.15 252.3,46.75 C253.3,46.36 254.3,45.97 255.3,45.58 C256.3,45.19 257.3,44.8 258.3,44.41 C259.3,44.02 260.3,43.64 261.3,43.26 C262.3,42.87 263.3,42.49 264.3,42.11 C265.3,41.73 266.3,41.35 267.3,40.98 C268.3,40.6 269.3,40.23 270.3,39.86 C271.3,39.48 272.3,39.11 273.3,38.75 C274.3,38.38 275.3,38.01 276.3,37.65 C277.3,37.28 278.3,36.92 279.3,36.56 C280.3,36.2 281.3,35.84 282.3,35.48 C283.3,35.13 284.3,34.77 285.3,34.42 C286.3,34.07 287.3,33.72 288.3,33.37 C289.3,33.02 290.75,32.53 291.3,32.33 C291.85,32.13 291.55,32.2 291.6,32.17 L292.4,67.2 L293.0,31.84 L297.5,30.38" fill="none" stroke="#a15a3d" stroke-width="1.0"/>
<path d="M42.3,200.45 C42.8,200.28 44.3,199.88 45.3,199.41 C46.3,198.94 47.3,198.45 48.3,197.63 C49.3,196.81 50.3,195.83 51.3,194.48 C52.3,193.14 53.3,191.36 54.3,189.55 C55.3,187.75 56.3,185.57 57.3,183.64 C58.3,181.7 59.3,179.74 60.3,177.96 C61.3,176.18 62.3,174.6 63.3,172.93 C64.3,171.25 65.3,169.46 66.3,167.9 C67.3,166.34 68.3,165.01 69.3,163.58 C70.3,162.15 71.3,160.69 72.3,159.3 C73.3,157.91 74.3,156.56 75.3,155.24 C76.3,153.92 77.3,152.64 78.3,151.39 C79.3,150.13 80.3,148.9 81.3,147.72 C82.3,146.54 83.3,145.39 84.3,144.29 C85.3,143.19 86.3,142.13 87.3,141.12 C88.3,140.1 89.3,139.14 90.3,138.21 C91.3,137.28 92.3,136.4 93.3,135.52 C94.3,134.65 95.3,133.81 96.3,132.97 C97.3,132.12 98.3,131.28 99.3,130.45 C100.3,129.62 101.3,128.79 102.3,127.96 C103.3,127.14 104.3,126.32 105.3,125.51 C106.3,124.7 107.3,123.9 108.3,123.1 C109.3,122.3 110.3,121.51 111.3,120.73 C112.3,119.95 113.3,119.17 114.3,118.41 C115.3,117.64 116.3,116.88 117.3,116.13 C118.3,115.39 119.3,114.65 120.3,113.91 C121.3,113.18 122.3,112.46 123.3,111.74 C124.3,111.02 125.3,110.32 126.3,109.62 C127.3,108.92 128.3,108.22 129.3,107.54 C130.3,106.85 131.3,106.18 132.3,105.5 C133.3,104.83 134.3,104.17 135.3,103.52 C136.3,102.86 137.3,102.21 138.3,101.57 C139.3,100.93 140.3,100.29 141.3,99.66 C142.3,99.03 143.3,98.41 144.3,97.8 C145.3,97.18 146.3,96.57 147.3,95.97 C148.3,95.36 149.3,94.77 150.3,94.18 C151.3,93.59 152.3,93 153.3,92.42 C154.3,91.84 155.3,91.27 156.3,90.7 C157.3,90.13 158.3,89.57 159.3,89.01 C160.3,88.46 161.3,87.9 162.3,87.36 C163.3,86.81 164.3,86.27 165.3,85.73 C166.3,85.19 167.3,84.66 168.3,84.14 C169.3,83.61 170.3,83.09 171.3,82.57 C172.3,82.05 173.3,81.53 174.3,81.02 C175.3,80.51 176.3,80.01 177.3,79.51 C178.3,79.01 179.3,78.51 180.3,78.01 C181.3,77.52 182.3,77.03 183.3,76.54 C184.3,76.06 185.3,75.57 186.3,75.09 C187.3,74.61 188.3,74.14 189.3,73.66 C190.3,73.19 191.3,72.72 192.3,72.25 C193.3,71.79 194.3,71.32 195.3,70.86 C196.3,70.4 197.3,69.94 198.3,69.48 C199.3,69.02 200.3,68.57 201.3,68.12 C202.3,67.67 203.3,67.22 204.3,66.77 C205.3,66.32 206.3,65.87 207.3,65.43 C208.3,64.99 209.3,64.54 210.3,64.1 C211.3,63.66 212.3,63.22 213.3,62.78 C214.3,62.35 215.3,61.91 216.3,61.47 C217.3,61.04 218.3,60.61 219.3,60.18 C220.3,59.74 221.3,59.31 222.3,58.89 C223.3,58.46 224.3,58.03 225.3,57.61 C226.3,57.18 227.3,56.76 228.3,56.34 C229.3,55.91 230.3,55.49 231.3,55.08 C232.3,54.66 233.3,54.24 234.3,53.83 C235.3,53.41 236.3,53 237.3,52.59 C238.3,52.18 239.3,51.77 240.3,51.36 C241.3,50.95 242.3,50.54 243.3,50.14 C244.3,49.73 245.3,49.33 246.3,48.93 C247.3,48.53 248.3,48.13 249.3,47.73 C250.3,47.33 251.3,46.94 252.3,46.54 C253.3,46.15 254.3,45.76 255.3,45.37 C256.3,44.98 257.3,44.59 258.3,44.2 C259.3,43.82 260.3,43.43 261.3,43.05 C262.3,42.66 263.3,42.28 264.3,41.9 C265.3,41.52 266.3,41.15 267.3,40.77 C268.3,40.4 269.3,40.02 270.3,39.65 C271.3,39.28 272.3,38.91 273.3,38.54 C274.3,38.17 275.3,37.81 276.3,37.44 C277.3,37.08 278.3,36.72 279.3,36.35 C280.3,35.99 281.3,35.64 282.3,35.28 C283.3,34.92 284.3,34.57 285.3,34.22 C286.3,33.86 287.3,33.51 288.3,33.16 C289.3,32.82 290.65,32.35 291.3,32.13 C291.95,31.9 292.05,31.87 292.2,31.82 L293.2,70.8 L294.2,31.13 L297.5,30.08" fill="none" stroke="#4ea0da" stroke-width="1.1"/>
<path d="M105.3,121.5 L105.6,133" stroke="#f8b2a2" stroke-width="0.9" fill="none"/>
<path d="M101.3,127.4 L102.6,126.0 L103.6,126.9 L104.8,122.8 L105.3,128.8 L106.1,123.6 L107.6,122.0" stroke="#4ea0da" stroke-width="1.1" fill="none"/>
<path d="M107.0,125.0 L107.4,128.2" stroke="#7650c0" stroke-width="1.1" fill="none"/>
</g>
<text x="120.7" y="163.75" font-size="9.6" fill="#52bb86" text-anchor="start" font-weight="normal" >52.245 kHz</text>
<text x="171.4" y="130.8" font-size="9.6" fill="#d8625d" text-anchor="start" font-weight="normal" >56.611 kHz</text>
<text x="239.9" y="103.8" font-size="9.6" fill="#f6ae9d" text-anchor="start" font-weight="normal" >59.251 kHz</text>
<g clip-path="url(#cb)">
<path d="M332.2,203.5 334.2,203.3 336.2,202.9 338.2,202.5 340.2,201.8 342.2,200.7 343.2,199.9 344.2,198.8 345.2,197.4M346.2,195.7h0.01M347.2,193.4h0.01M348.2,190.7h0.01M349.2,187.7h0.01M350.2,184.7h0.01M351.2,181.8h0.01M352.2,179.4h0.01M353.2,177.6h0.01M354.2,175.9h0.01M355.2,174.3 356.2,172.7 357.2,171.2 358.2,169.7 359.2,168.1 360.2,166.6 361.2,165.2 362.2,163.9 363.2,162.6 364.2,161.4 365.2,160.2 366.2,159.0 367.2,157.8 368.2,156.7 369.2,155.6 370.2,154.5 371.2,153.4 372.2,152.3 373.2,151.3 374.2,150.2 375.2,149.2 376.2,148.2 377.2,147.2 378.2,146.2 379.2,145.3 380.2,144.3 381.2,143.4 382.2,142.4 383.2,141.5 384.2,140.6 385.2,139.7 386.2,138.8 387.2,137.9 388.2,137.0 389.2,136.1 390.2,135.2 391.2,134.4 392.2,133.5 393.2,132.7 394.2,131.8 395.2,131.0 396.2,130.2 397.2,129.4 398.2,128.6 400.2,127.0 402.2,125.4 404.2,123.9 406.2,122.4 408.2,120.9 410.2,119.5 412.2,118.0 414.2,116.6 416.2,115.2 418.2,113.8 420.2,112.4 422.2,111.0 424.2,109.7 426.2,108.4 428.2,107.0 430.2,105.7 432.2,104.4 434.2,103.2 436.2,101.9 438.2,100.7 440.2,99.5 442.2,98.2 444.2,97.0 446.2,95.8 448.2,94.7 450.2,93.5 452.2,92.3 454.2,91.2 456.2,90.0 458.2,88.9 460.2,87.8 462.2,86.6 464.2,85.5 466.2,84.4 468.2,83.3 470.2,82.3 472.2,81.2 474.2,80.1 476.2,79.1 478.2,78.0 480.2,77.0 482.2,75.9 484.2,74.9 486.2,73.9 488.2,72.9 490.2,71.9 492.2,70.9 494.2,69.9 496.2,68.9 498.2,67.9 500.2,67.0 502.2,66.0 504.2,65.1 506.2,64.1 508.2,63.2 510.2,62.2 512.2,61.3 514.2,60.4 516.2,59.5 518.2,58.6 520.2,57.6 522.2,56.7 524.2,55.8 526.2,54.9 528.2,54.0 530.2,53.2 532.2,52.3 534.2,51.4 536.2,50.5 538.2,49.6 540.2,48.8 542.2,47.9 544.2,47.0 546.2,46.1 548.2,45.3 550.2,44.4 552.2,43.5 554.2,42.6 556.2,41.8 558.2,40.9 560.2,40.0 562.2,39.1 564.2,38.3 566.2,37.4 568.2,36.5 570.2,35.6 572.2,34.7 574.2,33.8 576.2,32.9 578.2,32.0 580.2,31.1 578.2,32.0 576.2,32.9 574.2,33.8 572.2,34.7 570.2,35.6 568.2,36.5 566.2,37.4 564.2,38.3 562.2,39.2 560.2,40.1 558.2,40.9 556.2,41.8 554.2,42.7 552.2,43.6 550.2,44.4 548.2,45.3 546.2,46.2 544.2,47.1 542.2,48.0 540.2,48.8 538.2,49.7 536.2,50.6 534.2,51.5 532.2,52.4 530.2,53.2 528.2,54.1 526.2,55.0 524.2,55.9 522.2,56.8 520.2,57.7 518.2,58.7 516.2,59.6 514.2,60.5 512.2,61.4 510.2,62.3 508.2,63.3 506.2,64.2 504.2,65.2 502.2,66.1 500.2,67.1 498.2,68.1 496.2,69.0 494.2,70.0 492.2,71.0 490.2,72.0 488.2,73.0 486.2,74.0 484.2,75.1 482.2,76.1 480.2,77.1 478.2,78.2 476.2,79.2 474.2,80.3 472.2,81.4 470.2,82.4 468.2,83.5 466.2,84.6 464.2,85.7 462.2,86.8 460.2,88.0 458.2,89.1 456.2,90.2 454.2,91.4 452.2,92.5 450.2,93.7 448.2,94.9 446.2,96.1 444.2,97.3 442.2,98.5 440.2,99.7 438.2,100.9 436.2,102.2 434.2,103.5 432.2,104.7 430.2,106.0 428.2,107.3 426.2,108.7 424.2,110.0 422.2,111.4 420.2,112.8 418.2,114.1 416.2,115.6 414.2,117.0 412.2,118.4 410.2,119.9 408.2,121.4 406.2,122.9 404.2,124.4 402.2,125.9 400.2,127.5 398.2,129.1 397.2,129.9 396.2,130.7 395.2,131.6 394.2,132.4 393.2,133.3 392.2,134.1 391.2,135.0 390.2,135.9 389.2,136.8 388.2,137.7 387.2,138.6 386.2,139.5 385.2,140.4 384.2,141.3 383.2,142.3 382.2,143.2 381.2,144.2 380.2,145.1 379.2,146.1 378.2,147.1 377.2,148.1 376.2,149.1 375.2,150.2 374.2,151.2 373.2,152.3 372.2,153.4 371.2,154.5 370.2,155.7 369.2,156.8 368.2,158.0 367.2,159.2 366.2,160.4 365.2,161.7 364.2,163.0 363.2,164.3 362.2,165.7 361.2,167.3M360.2,168.9h0.01M359.2,170.6h0.01M358.2,172.2h0.01M357.2,173.9h0.01M356.2,175.7h0.01M355.2,177.6h0.01M354.2,179.8h0.01M353.2,183.3h0.01M352.2,189.0h0.01M352.2,196.9h0.01M353.2,199.5 354.2,200.6 356.2,201.8 358.2,202.5 360.2,203.0 362.2,203.3 364.2,203.6 366.2,203.8 368.2,203.9 370.2,204.0 372.2,204.1 374.2,204.2 376.2,204.3 378.2,204.4 380.2,204.4 382.2,204.5 384.2,204.5 386.2,204.6 388.2,204.6 390.2,204.6 392.2,204.7 394.2,204.7 396.2,204.7 398.2,204.7 400.2,204.8 402.2,204.8 404.2,204.8 406.2,204.8 408.2,204.8 410.2,204.8 412.2,204.9 414.2,204.9 416.2,204.9 418.2,204.9 420.2,204.9 422.2,204.9 424.2,204.9 426.2,204.9 428.2,205.0 430.2,205.0 432.2,205.0 434.2,205.0 436.2,205.0 438.2,205.0 440.2,205.0 442.2,205.0 444.2,205.0 446.2,205.0 448.2,205.0 450.2,205.0 452.2,205.0 454.2,205.0 456.2,205.0 458.2,205.0 460.2,205.1 462.2,205.1 464.2,205.1 466.2,205.1 468.2,205.1 470.2,205.1 472.2,205.1 474.2,205.1 476.2,205.1 478.2,205.1 480.2,205.1 482.2,205.1 484.2,205.1 486.2,205.1 488.2,205.1 490.2,205.1 492.2,205.1 494.2,205.1 496.2,205.1 498.2,205.1 500.2,205.1 502.2,205.1 504.2,205.1 506.2,205.1 508.2,205.1 510.2,205.1 512.2,205.1 514.2,205.1 516.2,205.1 518.2,205.1 520.2,205.1 522.2,205.1 524.2,205.1 526.2,205.1 528.2,205.1 530.2,205.1 532.2,205.1 534.2,205.1 536.2,205.2 538.2,205.2 540.2,205.2 542.2,205.2 544.2,205.2 546.2,205.2 548.2,205.2 550.2,205.2 552.2,205.2 554.2,205.2 556.2,205.2 558.2,205.2 560.2,205.2 562.2,205.2 564.2,205.2 566.2,205.2 568.2,205.2 570.2,205.2 572.2,205.2 574.2,205.2 576.2,205.2 578.2,205.2 580.2,205.2 582.2,205.2 584.2,205.2 586.2,205.2 588.2,205.2 589.2,205.2" fill="none" stroke="#f8b2a2" stroke-width="1.25" stroke-linecap="round" stroke-linejoin="round"/>
<path d="M332.2,203.0 334.2,202.7 336.2,202.3 338.2,201.7 340.2,200.8 342.2,199.5 343.2,198.6 344.2,197.4 345.2,196.0M346.2,194.1h0.01M347.2,191.9h0.01M348.2,189.2h0.01M349.2,186.5h0.01M350.2,183.6h0.01M351.2,180.9h0.01M352.2,178.8h0.01M353.2,177.1h0.01M354.2,175.5 355.2,173.9 356.2,172.4 357.2,170.9 358.2,169.4 359.2,167.8 360.2,166.3 361.2,164.9 362.2,163.6 363.2,162.4 364.2,161.2 365.2,160.0 366.2,158.8 367.2,157.7 368.2,156.5 369.2,155.4 370.2,154.3 371.2,153.2 372.2,152.2 373.2,151.1 374.2,150.1 375.2,149.1 376.2,148.1 377.2,147.1 378.2,146.1 379.2,145.1 380.2,144.2 381.2,143.2 382.2,142.3 383.2,141.4 384.2,140.5 385.2,139.6 386.2,138.7 387.2,137.8 388.2,136.9 389.2,136.0 390.2,135.2 391.2,134.3 392.2,133.4 393.2,132.6 394.2,131.8 395.2,130.9 396.2,130.1 397.2,129.3 398.2,128.5 400.2,126.9 402.2,125.4 404.2,123.9 406.2,122.4 408.2,120.9 410.2,119.4 412.2,118.0 414.2,116.5 416.2,115.1 418.2,113.7 420.2,112.4 422.2,111.0 424.2,109.6 426.2,108.3 428.2,107.0 430.2,105.7 432.2,104.4 434.2,103.1 436.2,101.9 438.2,100.6 440.2,99.4 442.2,98.2 444.2,97.0 446.2,95.8 448.2,94.6 450.2,93.4 452.2,92.3 454.2,91.1 456.2,90.0 458.2,88.9 460.2,87.7 462.2,86.6 464.2,85.5 466.2,84.4 468.2,83.3 470.2,82.2 472.2,81.2 474.2,80.1 476.2,79.0 478.2,78.0 480.2,77.0 482.2,75.9 484.2,74.9 486.2,73.9 488.2,72.9 490.2,71.9 492.2,70.9 494.2,69.9 496.2,68.9 498.2,67.9 500.2,67.0 502.2,66.0 504.2,65.0 506.2,64.1 508.2,63.1 510.2,62.2 512.2,61.3 514.2,60.4 516.2,59.5 518.2,58.5 520.2,57.6 522.2,56.7 524.2,55.8 526.2,54.9 528.2,54.0 530.2,53.1 532.2,52.3 534.2,51.4 536.2,50.5 538.2,49.6 540.2,48.8 542.2,47.9 544.2,47.0 546.2,46.1 548.2,45.3 550.2,44.4 552.2,43.5 554.2,42.6 556.2,41.8 558.2,40.9 560.2,40.0 562.2,39.1 564.2,38.3 566.2,37.4 568.2,36.5 570.2,35.6 572.2,34.7 574.2,33.8 576.2,32.9 578.2,32.0 576.2,32.9 574.2,33.8 572.2,34.7 570.2,35.6 568.2,36.5 566.2,37.4 564.2,38.3 562.2,39.2 560.2,40.1 558.2,40.9 556.2,41.8 554.2,42.7 552.2,43.6 550.2,44.5 548.2,45.3 546.2,46.2 544.2,47.1 542.2,48.0 540.2,48.9 538.2,49.7 536.2,50.6 534.2,51.5 532.2,52.4 530.2,53.3 528.2,54.1 526.2,55.0 524.2,55.9 522.2,56.8 520.2,57.8 518.2,58.7 516.2,59.6 514.2,60.5 512.2,61.4 510.2,62.4 508.2,63.3 506.2,64.2 504.2,65.2 502.2,66.1 500.2,67.1 498.2,68.1 496.2,69.1 494.2,70.0 492.2,71.0 490.2,72.0 488.2,73.0 486.2,74.1 484.2,75.1 482.2,76.1 480.2,77.2 478.2,78.2 476.2,79.3 474.2,80.3 472.2,81.4 470.2,82.5 468.2,83.6 466.2,84.6 464.2,85.8 462.2,86.9 460.2,88.0 458.2,89.1 456.2,90.3 454.2,91.4 452.2,92.6 450.2,93.7 448.2,94.9 446.2,96.1 444.2,97.3 442.2,98.5 440.2,99.7 438.2,101.0 436.2,102.2 434.2,103.5 432.2,104.8 430.2,106.1 428.2,107.4 426.2,108.7 424.2,110.1 422.2,111.4 420.2,112.8 418.2,114.2 416.2,115.6 414.2,117.0 412.2,118.5 410.2,120.0 408.2,121.4 406.2,122.9 404.2,124.5 402.2,126.0 400.2,127.6 398.2,129.2 397.2,130.0 396.2,130.8 395.2,131.7 394.2,132.5 393.2,133.4 392.2,134.2 391.2,135.1 390.2,136.0 389.2,136.9 388.2,137.8 387.2,138.7 386.2,139.6 385.2,140.5 384.2,141.4 383.2,142.4 382.2,143.3 381.2,144.3 380.2,145.3 379.2,146.2 378.2,147.2 377.2,148.3 376.2,149.3 375.2,150.3 374.2,151.4 373.2,152.5 372.2,153.6 371.2,154.7 370.2,155.9 369.2,157.0 368.2,158.2 367.2,159.4 366.2,160.6 365.2,161.9 364.2,163.2 363.2,164.5 362.2,166.0 361.2,167.6M360.2,169.3h0.01M359.2,171.0h0.01M358.2,172.6h0.01M357.2,174.3h0.01M356.2,176.2h0.01M355.2,178.2h0.01M354.2,180.7h0.01M353.2,185.2h0.01M353.2,197.0h0.01M354.2,199.0 355.2,200.1 357.2,201.3 359.2,202.0 361.2,202.5 363.2,202.9 365.2,203.2 367.2,203.4 369.2,203.6 371.2,203.7 373.2,203.9 375.2,204.0 377.2,204.1 379.2,204.1 381.2,204.2 383.2,204.3 385.2,204.3 387.2,204.4 389.2,204.4 391.2,204.5 393.2,204.5 395.2,204.5 397.2,204.6 399.2,204.6 401.2,204.6 403.2,204.6 405.2,204.7 407.2,204.7 409.2,204.7 411.2,204.7 413.2,204.7 415.2,204.8 417.2,204.8 419.2,204.8 421.2,204.8 423.2,204.8 425.2,204.8 427.2,204.8 429.2,204.9 431.2,204.9 433.2,204.9 435.2,204.9 437.2,204.9 439.2,204.9 441.2,204.9 443.2,204.9 445.2,204.9 447.2,204.9 449.2,204.9 451.2,205.0 453.2,205.0 455.2,205.0 457.2,205.0 459.2,205.0 461.2,205.0 463.2,205.0 465.2,205.0 467.2,205.0 469.2,205.0 471.2,205.0 473.2,205.0 475.2,205.0 477.2,205.0 479.2,205.0 481.2,205.0 483.2,205.0 485.2,205.0 487.2,205.0 489.2,205.0 491.2,205.0 493.2,205.1 495.2,205.1 497.2,205.1 499.2,205.1 501.2,205.1 503.2,205.1 505.2,205.1 507.2,205.1 509.2,205.1 511.2,205.1 513.2,205.1 515.2,205.1 517.2,205.1 519.2,205.1 521.2,205.1 523.2,205.1 525.2,205.1 527.2,205.1 529.2,205.1 531.2,205.1 533.2,205.1 535.2,205.1 537.2,205.1 539.2,205.1 541.2,205.1 543.2,205.1 545.2,205.1 547.2,205.1 549.2,205.1 551.2,205.1 553.2,205.1 555.2,205.1 557.2,205.1 559.2,205.1 561.2,205.1 563.2,205.1 565.2,205.1 567.2,205.1 569.2,205.1 571.2,205.1 573.2,205.1 575.2,205.1 577.2,205.1 579.2,205.1 581.2,205.1 583.2,205.1 585.2,205.1 587.2,205.1 589.2,205.2" fill="none" stroke="#a15a3d" stroke-width="1.25" stroke-linecap="round" stroke-linejoin="round"/>
<path d="M332.2,203.8 334.2,203.6 336.2,203.3 338.2,202.9 340.2,202.3 342.2,201.3 344.2,199.6 345.2,198.2M346.2,196.6h0.01M347.2,194.3h0.01M348.2,191.5h0.01M349.2,188.5h0.01M350.2,185.3h0.01M351.2,182.3h0.01M352.2,179.7h0.01M353.2,177.8h0.01M354.2,176.2h0.01M355.2,174.5 356.2,172.9 357.2,171.4 358.2,169.9 359.2,168.3 360.2,166.8 361.2,165.3 362.2,164.0 363.2,162.7 364.2,161.5 365.2,160.3 366.2,159.1 367.2,157.9 368.2,156.8 369.2,155.7 370.2,154.6 371.2,153.5 372.2,152.4 373.2,151.3 374.2,150.3 375.2,149.3 376.2,148.3 377.2,147.3 378.2,146.3 379.2,145.3 380.2,144.4 381.2,143.4 382.2,142.5 383.2,141.6 384.2,140.6 385.2,139.7 386.2,138.8 387.2,137.9 388.2,137.0 389.2,136.2 390.2,135.3 391.2,134.4 392.2,133.6 393.2,132.7 394.2,131.9 395.2,131.1 396.2,130.2 397.2,129.4 398.2,128.6 400.2,127.0 402.2,125.5 404.2,124.0 406.2,122.5 408.2,121.0 410.2,119.5 412.2,118.1 414.2,116.6 416.2,115.2 418.2,113.8 420.2,112.4 422.2,111.1 424.2,109.7 426.2,108.4 428.2,107.1 430.2,105.8 432.2,104.5 434.2,103.2 436.2,102.0 438.2,100.7 440.2,99.5 442.2,98.3 444.2,97.1 446.2,95.9 448.2,94.7 450.2,93.5 452.2,92.3 454.2,91.2 456.2,90.1 458.2,88.9 460.2,87.8 462.2,86.7 464.2,85.6 466.2,84.5 468.2,83.4 470.2,82.3 472.2,81.2 474.2,80.2 476.2,79.1 478.2,78.1 480.2,77.0 482.2,76.0 484.2,75.0 486.2,73.9 488.2,72.9 490.2,71.9 492.2,70.9 494.2,69.9 496.2,69.0 498.2,68.0 500.2,67.0 502.2,66.0 504.2,65.1 506.2,64.1 508.2,63.2 510.2,62.3 508.2,63.2 506.2,64.2 504.2,65.1 502.2,66.1 500.2,67.1 498.2,68.0 496.2,69.0 494.2,70.0 492.2,71.0 490.2,72.0 488.2,73.0 486.2,74.0 484.2,75.0 482.2,76.1 480.2,77.1 478.2,78.1 476.2,79.2 474.2,80.3 472.2,81.3 470.2,82.4 468.2,83.5 466.2,84.6 464.2,85.7 462.2,86.8 460.2,87.9 458.2,89.1 456.2,90.2 454.2,91.3 452.2,92.5 450.2,93.7 448.2,94.8 446.2,96.0 444.2,97.2 442.2,98.5 440.2,99.7 438.2,100.9 436.2,102.2 434.2,103.4 432.2,104.7 430.2,106.0 428.2,107.3 426.2,108.6 424.2,110.0 422.2,111.3 420.2,112.7 418.2,114.1 416.2,115.5 414.2,116.9 412.2,118.4 410.2,119.8 408.2,121.3 406.2,122.8 404.2,124.3 402.2,125.9 400.2,127.4 398.2,129.1 397.2,129.9 396.2,130.7 395.2,131.5 394.2,132.4 393.2,133.2 392.2,134.1 391.2,134.9 390.2,135.8 389.2,136.7 388.2,137.6 387.2,138.5 386.2,139.4 385.2,140.3 384.2,141.3 383.2,142.2 382.2,143.1 381.2,144.1 380.2,145.1 379.2,146.0 378.2,147.0 377.2,148.0 376.2,149.1 375.2,150.1 374.2,151.2 373.2,152.2 372.2,153.3 371.2,154.5 370.2,155.6 369.2,156.7 368.2,157.9 367.2,159.1 366.2,160.3 365.2,161.6 364.2,162.8 363.2,164.1 362.2,165.6 361.2,167.1M360.2,168.7h0.01M359.2,170.4h0.01M358.2,172.0h0.01M357.2,173.7h0.01M356.2,175.5h0.01M355.2,177.3h0.01M354.2,179.4h0.01M353.2,182.5h0.01M352.2,187.4h0.01M352.2,198.8 353.2,200.4 354.2,201.3 356.2,202.3 358.2,202.9 360.2,203.3 362.2,203.6 364.2,203.8 366.2,204.0 368.2,204.1 370.2,204.2 372.2,204.3 374.2,204.4 376.2,204.4 378.2,204.5 380.2,204.6 382.2,204.6 384.2,204.6 386.2,204.7 388.2,204.7 390.2,204.7 392.2,204.8 394.2,204.8 396.2,204.8 398.2,204.8 400.2,204.8 402.2,204.9 404.2,204.9 406.2,204.9 408.2,204.9 410.2,204.9 412.2,204.9 414.2,204.9 416.2,204.9 418.2,205.0 420.2,205.0 422.2,205.0 424.2,205.0 426.2,205.0 428.2,205.0 430.2,205.0 432.2,205.0 434.2,205.0 436.2,205.0 438.2,205.0 440.2,205.0 442.2,205.0 444.2,205.1 446.2,205.1 448.2,205.1 450.2,205.1 452.2,205.1 454.2,205.1 456.2,205.1 458.2,205.1 460.2,205.1 462.2,205.1 464.2,205.1 466.2,205.1 468.2,205.1 470.2,205.1 472.2,205.1 474.2,205.1 476.2,205.1 478.2,205.1 480.2,205.1 482.2,205.1 484.2,205.1 486.2,205.1 488.2,205.1 490.2,205.1 492.2,205.1 494.2,205.1 496.2,205.1 498.2,205.1 500.2,205.1 502.2,205.1 504.2,205.1 506.2,205.1 508.2,205.2 510.2,205.2 512.2,205.2 514.2,205.2 516.2,205.2 518.2,205.2 520.2,205.2 522.2,205.2 524.2,205.2 526.2,205.2 528.2,205.2 530.2,205.2 532.2,205.2 534.2,205.2 536.2,205.2 538.2,205.2 540.2,205.2 542.2,205.2 544.2,205.2 546.2,205.2 548.2,205.2 550.2,205.2 552.2,205.2 554.2,205.2 556.2,205.2 558.2,205.2 560.2,205.2 562.2,205.2 564.2,205.2 566.2,205.2 568.2,205.2 570.2,205.2 572.2,205.2 574.2,205.2 576.2,205.2 578.2,205.2 580.2,205.2 582.2,205.2 584.2,205.2 586.2,205.2 588.2,205.2 589.2,205.2" fill="none" stroke="#f0c050" stroke-width="1.25" stroke-linecap="round" stroke-linejoin="round"/>
<path d="M332.2,204.0 334.2,203.9 336.2,203.6 338.2,203.3 340.2,202.8 342.2,201.9 344.2,200.4 345.2,199.1M346.2,197.5h0.01M347.2,195.3h0.01M348.2,192.5h0.01M349.2,189.2h0.01M350.2,186.0h0.01M351.2,182.8h0.01M352.2,180.1h0.01M353.2,178.1h0.01M354.2,176.4h0.01M355.2,174.7 356.2,173.1 357.2,171.6 358.2,170.1 359.2,168.5 360.2,166.9 361.2,165.5 362.2,164.1 363.2,162.8 364.2,161.6 365.2,160.4 366.2,159.2 367.2,158.0 368.2,156.9 369.2,155.8 370.2,154.7 371.2,153.6 372.2,152.5 373.2,151.4 374.2,150.4 375.2,149.3 376.2,148.3 377.2,147.3 378.2,146.4 379.2,145.4 380.2,144.4 381.2,143.5 382.2,142.5 383.2,141.6 384.2,140.7 385.2,139.8 386.2,138.9 387.2,138.0 388.2,137.1 389.2,136.2 390.2,135.3 391.2,134.5 392.2,133.6 393.2,132.8 394.2,131.9 395.2,131.1 396.2,130.3 397.2,129.5 398.2,128.7 400.2,127.1 402.2,125.5 404.2,124.0 406.2,122.5 408.2,121.0 410.2,119.5 412.2,118.1 414.2,116.7 416.2,115.2 418.2,113.8 420.2,112.5 422.2,111.1 424.2,109.7 426.2,108.4 428.2,107.1 430.2,105.8 432.2,104.5 434.2,103.2 436.2,102.0 438.2,100.7 440.2,99.5 442.2,98.3 444.2,97.1 446.2,95.9 448.2,94.7 450.2,93.5 452.2,92.4 454.2,91.2 456.2,90.1 458.2,88.9 460.2,87.8 462.2,86.7 464.2,85.6 466.2,84.5 468.2,83.4 470.2,82.3 472.2,81.2 474.2,80.2 476.2,79.1 478.2,78.1 480.2,77.0 482.2,76.0 484.2,75.0 486.2,73.9 488.2,72.9 490.2,71.9 492.2,70.9 494.2,69.9 496.2,69.0 498.2,68.0 500.2,67.0 502.2,66.1 504.2,65.1 506.2,64.1 508.2,63.2 506.2,64.2 504.2,65.1 502.2,66.1 500.2,67.0 498.2,68.0 496.2,69.0 494.2,70.0 492.2,71.0 490.2,72.0 488.2,73.0 486.2,74.0 484.2,75.0 482.2,76.1 480.2,77.1 478.2,78.1 476.2,79.2 474.2,80.3 472.2,81.3 470.2,82.4 468.2,83.5 466.2,84.6 464.2,85.7 462.2,86.8 460.2,87.9 458.2,89.0 456.2,90.2 454.2,91.3 452.2,92.5 450.2,93.7 448.2,94.8 446.2,96.0 444.2,97.2 442.2,98.4 440.2,99.7 438.2,100.9 436.2,102.1 434.2,103.4 432.2,104.7 430.2,106.0 428.2,107.3 426.2,108.6 424.2,110.0 422.2,111.3 420.2,112.7 418.2,114.1 416.2,115.5 414.2,116.9 412.2,118.4 410.2,119.8 408.2,121.3 406.2,122.8 404.2,124.3 402.2,125.8 400.2,127.4 398.2,129.0 397.2,129.8 396.2,130.7 395.2,131.5 394.2,132.3 393.2,133.2 392.2,134.0 391.2,134.9 390.2,135.8 389.2,136.7 388.2,137.6 387.2,138.5 386.2,139.4 385.2,140.3 384.2,141.2 383.2,142.1 382.2,143.1 381.2,144.0 380.2,145.0 379.2,146.0 378.2,147.0 377.2,148.0 376.2,149.0 375.2,150.0 374.2,151.1 373.2,152.2 372.2,153.3 371.2,154.4 370.2,155.5 369.2,156.6 368.2,157.8 367.2,159.0 366.2,160.2 365.2,161.4 364.2,162.7 363.2,164.0 362.2,165.4 361.2,166.9M360.2,168.6h0.01M359.2,170.2h0.01M358.2,171.8h0.01M357.2,173.5h0.01M356.2,175.2h0.01M355.2,177.0h0.01M354.2,179.0h0.01M353.2,181.9h0.01M352.2,186.2h0.01M351.2,194.4 351.2,195.7M352.2,200.2 353.2,201.3 355.2,202.5 357.2,203.1 359.2,203.5 361.2,203.8 363.2,204.0 365.2,204.1 367.2,204.3 369.2,204.4 371.2,204.4 373.2,204.5 375.2,204.6 377.2,204.6 379.2,204.7 381.2,204.7 383.2,204.7 385.2,204.8 387.2,204.8 389.2,204.8 391.2,204.8 393.2,204.9 395.2,204.9 397.2,204.9 399.2,204.9 401.2,204.9 403.2,204.9 405.2,205.0 407.2,205.0 409.2,205.0 411.2,205.0 413.2,205.0 415.2,205.0 417.2,205.0 419.2,205.0 421.2,205.0 423.2,205.0 425.2,205.0 427.2,205.0 429.2,205.1 431.2,205.1 433.2,205.1 435.2,205.1 437.2,205.1 439.2,205.1 441.2,205.1 443.2,205.1 445.2,205.1 447.2,205.1 449.2,205.1 451.2,205.1 453.2,205.1 455.2,205.1 457.2,205.1 459.2,205.1 461.2,205.1 463.2,205.1 465.2,205.1 467.2,205.1 469.2,205.1 471.2,205.1 473.2,205.1 475.2,205.1 477.2,205.1 479.2,205.1 481.2,205.1 483.2,205.2 485.2,205.2 487.2,205.2 489.2,205.2 491.2,205.2 493.2,205.2 495.2,205.2 497.2,205.2 499.2,205.2 501.2,205.2 503.2,205.2 505.2,205.2 507.2,205.2 509.2,205.2 511.2,205.2 513.2,205.2 515.2,205.2 517.2,205.2 519.2,205.2 521.2,205.2 523.2,205.2 525.2,205.2 527.2,205.2 529.2,205.2 531.2,205.2 533.2,205.2 535.2,205.2 537.2,205.2 539.2,205.2 541.2,205.2 543.2,205.2 545.2,205.2 547.2,205.2 549.2,205.2 551.2,205.2 553.2,205.2 555.2,205.2 557.2,205.2 559.2,205.2 561.2,205.2 563.2,205.2 565.2,205.2 567.2,205.2 569.2,205.2 571.2,205.2 573.2,205.2 575.2,205.2 577.2,205.2 579.2,205.2 581.2,205.2 583.2,205.2 585.2,205.2 587.2,205.2 589.2,205.2" fill="none" stroke="#7650c0" stroke-width="1.25" stroke-linecap="round" stroke-linejoin="round"/>
<path d="M332.2,204.4 334.2,204.3 336.2,204.1 338.2,203.9 340.2,203.5 342.2,202.9 344.2,201.8 345.2,200.7M346.2,199.1h0.01M347.2,196.9h0.01M348.2,194.0h0.01M349.2,190.6h0.01M350.2,187.0h0.01M351.2,183.7h0.01M352.2,180.7h0.01M353.2,178.5h0.01M354.2,176.7h0.01M355.2,175.0h0.01M356.2,173.4 357.2,171.9 358.2,170.3 359.2,168.7 360.2,167.2 361.2,165.7 362.2,164.3 363.2,163.0 364.2,161.8 365.2,160.5 366.2,159.3 367.2,158.2 368.2,157.0 369.2,155.9 370.2,154.8 371.2,153.7 372.2,152.6 373.2,151.5 374.2,150.5 375.2,149.4 376.2,148.4 377.2,147.4 378.2,146.5 379.2,145.5 380.2,144.5 381.2,143.6 382.2,142.6 383.2,141.7 384.2,140.8 385.2,139.9 386.2,138.9 387.2,138.0 388.2,137.2 389.2,136.3 390.2,135.4 391.2,134.5 392.2,133.7 393.2,132.8 394.2,132.0 395.2,131.2 396.2,130.3 397.2,129.5 398.2,128.7 400.2,127.1 402.2,125.6 404.2,124.0 406.2,122.5 408.2,121.1 410.2,119.6 412.2,118.1 414.2,116.7 416.2,115.3 418.2,113.9 420.2,112.5 422.2,111.1 424.2,109.8 426.2,108.4 428.2,107.1 430.2,105.8 432.2,104.5 434.2,103.3 436.2,102.0 438.2,100.8 440.2,99.5 442.2,98.3 444.2,97.1 446.2,95.9 448.2,94.7 450.2,93.5 452.2,92.4 454.2,91.2 456.2,90.1 458.2,88.9 460.2,87.8 462.2,86.7 464.2,85.6 466.2,84.5 468.2,83.4 470.2,82.3 472.2,81.2 474.2,80.2 476.2,79.1 478.2,78.1 480.2,77.0 482.2,76.0 484.2,75.0 486.2,73.9 488.2,72.9 490.2,71.9 492.2,70.9 494.2,69.9 496.2,69.0 498.2,68.0 500.2,67.0 502.2,66.1 504.2,65.1 506.2,64.1 508.2,63.2 510.2,62.3 512.2,61.4 510.2,62.3 508.2,63.2 506.2,64.2 504.2,65.1 502.2,66.1 500.2,67.0 498.2,68.0 496.2,69.0 494.2,70.0 492.2,71.0 490.2,72.0 488.2,73.0 486.2,74.0 484.2,75.0 482.2,76.0 480.2,77.1 478.2,78.1 476.2,79.2 474.2,80.2 472.2,81.3 470.2,82.4 468.2,83.5 466.2,84.6 464.2,85.7 462.2,86.8 460.2,87.9 458.2,89.0 456.2,90.2 454.2,91.3 452.2,92.5 450.2,93.6 448.2,94.8 446.2,96.0 444.2,97.2 442.2,98.4 440.2,99.6 438.2,100.9 436.2,102.1 434.2,103.4 432.2,104.7 430.2,105.9 428.2,107.3 426.2,108.6 424.2,109.9 422.2,111.3 420.2,112.7 418.2,114.0 416.2,115.5 414.2,116.9 412.2,118.3 410.2,119.8 408.2,121.3 406.2,122.7 404.2,124.3 402.2,125.8 400.2,127.4 398.2,129.0 397.2,129.8 396.2,130.6 395.2,131.4 394.2,132.3 393.2,133.1 392.2,134.0 391.2,134.8 390.2,135.7 389.2,136.6 388.2,137.5 387.2,138.4 386.2,139.3 385.2,140.2 384.2,141.1 383.2,142.1 382.2,143.0 381.2,144.0 380.2,144.9 379.2,145.9 378.2,146.9 377.2,147.9 376.2,148.9 375.2,149.9 374.2,151.0 373.2,152.0 372.2,153.1 371.2,154.2 370.2,155.4 369.2,156.5 368.2,157.7 367.2,158.8 366.2,160.0 365.2,161.3 364.2,162.5 363.2,163.8 362.2,165.2 361.2,166.7 360.2,168.3M359.2,170.0 358.2,171.6 357.2,173.2M356.2,174.9h0.01M355.2,176.7h0.01M354.2,178.6h0.01M353.2,181.0h0.01M352.2,184.8h0.01M351.2,189.8h0.01M351.2,200.5 352.2,201.8 354.2,203.0 356.2,203.6 358.2,203.9 360.2,204.2 362.2,204.3 364.2,204.4 366.2,204.5 368.2,204.6 370.2,204.7 372.2,204.7 374.2,204.8 376.2,204.8 378.2,204.8 380.2,204.9 382.2,204.9 384.2,204.9 386.2,204.9 388.2,205.0 390.2,205.0 392.2,205.0 394.2,205.0 396.2,205.0 398.2,205.0 400.2,205.0 402.2,205.0 404.2,205.1 406.2,205.1 408.2,205.1 410.2,205.1 412.2,205.1 414.2,205.1 416.2,205.1 418.2,205.1 420.2,205.1 422.2,205.1 424.2,205.1 426.2,205.1 428.2,205.1 430.2,205.1 432.2,205.1 434.2,205.1 436.2,205.1 438.2,205.1 440.2,205.1 442.2,205.2 444.2,205.2 446.2,205.2 448.2,205.2 450.2,205.2 452.2,205.2 454.2,205.2 456.2,205.2 458.2,205.2 460.2,205.2 462.2,205.2 464.2,205.2 466.2,205.2 468.2,205.2 470.2,205.2 472.2,205.2 474.2,205.2 476.2,205.2 478.2,205.2 480.2,205.2 482.2,205.2 484.2,205.2 486.2,205.2 488.2,205.2 490.2,205.2 492.2,205.2 494.2,205.2 496.2,205.2 498.2,205.2 500.2,205.2 502.2,205.2 504.2,205.2 506.2,205.2 508.2,205.2 510.2,205.2 512.2,205.2 514.2,205.2 516.2,205.2 518.2,205.2 520.2,205.2 522.2,205.2 524.2,205.2 526.2,205.2 528.2,205.2 530.2,205.2 532.2,205.2 534.2,205.2 536.2,205.2 538.2,205.2 540.2,205.2 542.2,205.2 544.2,205.2 546.2,205.2 548.2,205.2 550.2,205.2 552.2,205.2 554.2,205.2 556.2,205.2 558.2,205.2 560.2,205.2 562.2,205.2 564.2,205.2 566.2,205.2 568.2,205.2 570.2,205.2 572.2,205.2 574.2,205.2 576.2,205.2 578.2,205.2 580.2,205.2 582.2,205.2 584.2,205.2 586.2,205.2 588.2,205.2 589.2,205.2" fill="none" stroke="#d9574f" stroke-width="1.25" stroke-linecap="round" stroke-linejoin="round"/>
<path d="M332.2,202.2 334.2,201.7 336.2,201.1 338.2,200.3 340.2,199.2 342.2,197.6 343.2,196.6 344.2,195.3 345.2,193.7M346.2,191.8h0.01M347.2,189.6h0.01M348.2,187.1h0.01M349.2,184.6h0.01M350.2,182.0h0.01M351.2,179.7h0.01M352.2,177.9 353.2,176.3 354.2,174.8 355.2,173.2 356.2,171.8 357.2,170.3 358.2,168.8 359.2,167.3 360.2,165.8 361.2,164.5 362.2,163.2 363.2,162.0 364.2,160.8 365.2,159.6 366.2,158.5 367.2,157.3 368.2,156.2 369.2,155.1 370.2,154.0 371.2,153.0 372.2,151.9 373.2,150.9 374.2,149.8 375.2,148.8 376.2,147.8 377.2,146.9 378.2,145.9 379.2,144.9 380.2,144.0 381.2,143.0 382.2,142.1 383.2,141.2 384.2,140.3 385.2,139.4 386.2,138.5 387.2,137.6 388.2,136.7 389.2,135.9 390.2,135.0 391.2,134.1 392.2,133.3 393.2,132.4 394.2,131.6 395.2,130.8 396.2,130.0 397.2,129.2 399.2,127.6 401.2,126.0 403.2,124.5 405.2,123.0 407.2,121.5 409.2,120.0 411.2,118.6 413.2,117.2 415.2,115.7 417.2,114.3 419.2,113.0 421.2,111.6 423.2,110.2 425.2,108.9 427.2,107.6 429.2,106.3 431.2,105.0 433.2,103.7 435.2,102.4 437.2,101.2 439.2,100.0 441.2,98.7 443.2,97.5 445.2,96.3 447.2,95.1 449.2,94.0 451.2,92.8 453.2,91.6 455.2,90.5 457.2,89.4 459.2,88.2 461.2,87.1 463.2,86.0 465.2,84.9 467.2,83.8 469.2,82.7 471.2,81.7 473.2,80.6 475.2,79.5 477.2,78.5 479.2,77.4 481.2,76.4 483.2,75.4 485.2,74.3 487.2,73.3 489.2,72.3 491.2,71.3 493.2,70.3 495.2,69.4 497.2,68.4 499.2,67.4 501.2,66.4 503.2,65.5 505.2,64.5 507.2,63.6 509.2,62.7 511.2,61.7 513.2,60.8 515.2,59.9 517.2,59.0 519.2,58.1 521.2,57.2 523.2,56.3 525.2,55.4 527.2,54.5 529.2,53.6 531.2,52.7 533.2,51.8 535.2,50.9 537.2,50.1 539.2,49.2 541.2,48.3 543.2,47.4 545.2,46.6 547.2,45.7 549.2,44.8 551.2,43.9 553.2,43.0 555.2,42.2 557.2,41.3 559.2,40.4 561.2,39.6 563.2,38.7 565.2,37.8 567.2,36.9 569.2,36.0 571.2,35.1 573.2,34.2 575.2,33.3 577.2,32.4 579.2,31.5 581.2,30.6 583.2,29.7 585.2,28.8 583.2,29.8 581.2,30.7 579.2,31.6 577.2,32.5 575.2,33.4 573.2,34.3 571.2,35.2 569.2,36.1 567.2,37.0 565.2,37.9 563.2,38.8 561.2,39.6 559.2,40.5 557.2,41.4 555.2,42.3 553.2,43.2 551.2,44.0 549.2,44.9 547.2,45.8 545.2,46.7 543.2,47.6 541.2,48.4 539.2,49.3 537.2,50.2 535.2,51.1 533.2,51.9 531.2,52.8 529.2,53.7 527.2,54.6 525.2,55.5 523.2,56.4 521.2,57.3 519.2,58.2 517.2,59.1 515.2,60.1 513.2,61.0 511.2,61.9 509.2,62.8 507.2,63.8 505.2,64.7 503.2,65.7 501.2,66.7 499.2,67.6 497.2,68.6 495.2,69.6 493.2,70.6 491.2,71.6 489.2,72.6 487.2,73.6 485.2,74.6 483.2,75.6 481.2,76.7 479.2,77.7 477.2,78.8 475.2,79.8 473.2,80.9 471.2,82.0 469.2,83.1 467.2,84.1 465.2,85.2 463.2,86.4 461.2,87.5 459.2,88.6 457.2,89.7 455.2,90.9 453.2,92.0 451.2,93.2 449.2,94.4 447.2,95.6 445.2,96.8 443.2,98.0 441.2,99.2 439.2,100.4 437.2,101.7 435.2,102.9 433.2,104.2 431.2,105.5 429.2,106.8 427.2,108.1 425.2,109.5 423.2,110.8 421.2,112.2 419.2,113.6 417.2,115.0 415.2,116.4 413.2,117.9 411.2,119.3 409.2,120.8 407.2,122.3 405.2,123.8 403.2,125.3 401.2,126.9 399.2,128.5 398.2,129.3 397.2,130.1 396.2,131.0 395.2,131.8 394.2,132.7 393.2,133.5 392.2,134.4 391.2,135.3 390.2,136.1 389.2,137.0 388.2,137.9 387.2,138.8 386.2,139.8 385.2,140.7 384.2,141.6 383.2,142.6 382.2,143.5 381.2,144.5 380.2,145.5 379.2,146.5 378.2,147.5 377.2,148.5 376.2,149.5 375.2,150.6 374.2,151.7 373.2,152.8 372.2,153.9 371.2,155.0 370.2,156.2 369.2,157.3 368.2,158.5 367.2,159.8 366.2,161.0 365.2,162.3 364.2,163.6 363.2,165.0 362.2,166.6M361.2,168.2h0.01M360.2,170.0h0.01M359.2,171.7h0.01M358.2,173.4h0.01M357.2,175.2h0.01M356.2,177.1h0.01M355.2,179.4h0.01M354.2,183.3h0.01M354.2,195.3h0.01M355.2,197.6 356.2,198.8 357.2,199.6 359.2,200.7 361.2,201.5 363.2,202.0 365.2,202.4 367.2,202.7 369.2,202.9 371.2,203.1 373.2,203.3 375.2,203.5 377.2,203.6 379.2,203.7 381.2,203.8 383.2,203.9 385.2,204.0 387.2,204.0 389.2,204.1 391.2,204.1 393.2,204.2 395.2,204.2 397.2,204.3 399.2,204.3 401.2,204.4 403.2,204.4 405.2,204.4 407.2,204.5 409.2,204.5 411.2,204.5 413.2,204.5 415.2,204.6 417.2,204.6 419.2,204.6 421.2,204.6 423.2,204.6 425.2,204.7 427.2,204.7 429.2,204.7 431.2,204.7 433.2,204.7 435.2,204.7 437.2,204.7 439.2,204.8 441.2,204.8 443.2,204.8 445.2,204.8 447.2,204.8 449.2,204.8 451.2,204.8 453.2,204.8 455.2,204.8 457.2,204.8 459.2,204.9 461.2,204.9 463.2,204.9 465.2,204.9 467.2,204.9 469.2,204.9 471.2,204.9 473.2,204.9 475.2,204.9 477.2,204.9 479.2,204.9 481.2,204.9 483.2,204.9 485.2,204.9 487.2,204.9 489.2,204.9 491.2,205.0 493.2,205.0 495.2,205.0 497.2,205.0 499.2,205.0 501.2,205.0 503.2,205.0 505.2,205.0 507.2,205.0 509.2,205.0 511.2,205.0 513.2,205.0 515.2,205.0 517.2,205.0 519.2,205.0 521.2,205.0 523.2,205.0 525.2,205.0 527.2,205.0 529.2,205.0 531.2,205.0 533.2,205.0 535.2,205.0 537.2,205.0 539.2,205.0 541.2,205.0 543.2,205.0 545.2,205.0 547.2,205.0 549.2,205.1 551.2,205.1 553.2,205.1 555.2,205.1 557.2,205.1 559.2,205.1 561.2,205.1 563.2,205.1 565.2,205.1 567.2,205.1 569.2,205.1 571.2,205.1 573.2,205.1 575.2,205.1 577.2,205.1 579.2,205.1 581.2,205.1 583.2,205.1 585.2,205.1 587.2,205.1 589.2,205.1" fill="none" stroke="#4ea0da" stroke-width="1.25" stroke-linecap="round" stroke-linejoin="round"/>
<path d="M332.2,205.1 334.2,205.1 336.2,205.0 338.2,205.0 340.2,204.9 342.2,204.8 344.2,204.5 346.2,203.7 347.2,202.1M348.2,198.2h0.01M349.2,193.9h0.01M350.2,189.5h0.01M351.2,185.5h0.01M352.2,182.0h0.01M353.2,179.3h0.01M354.2,177.4h0.01M355.2,175.7h0.01M356.2,174.0 357.2,172.4 358.2,170.8 359.2,169.2 360.2,167.6 361.2,166.1 362.2,164.7 363.2,163.3 364.2,162.1 365.2,160.8 366.2,159.6 367.2,158.4 368.2,157.3 369.2,156.1 370.2,155.0 371.2,153.9 372.2,152.8 373.2,151.7 374.2,150.7 375.2,149.6 376.2,148.6 377.2,147.6 378.2,146.6 379.2,145.7 380.2,144.7 381.2,143.7 382.2,142.8 383.2,141.8 384.2,140.9 385.2,140.0 386.2,139.1 387.2,138.2 388.2,137.3 389.2,136.4 390.2,135.5 391.2,134.7 392.2,133.8 393.2,133.0 394.2,132.1 395.2,131.3 396.2,130.5 397.2,129.6 398.2,128.8 400.2,127.2 399.2,128.0 398.2,128.8 397.2,129.7 396.2,130.5 395.2,131.3 394.2,132.1 393.2,133.0 392.2,133.8 391.2,134.7 390.2,135.6 389.2,136.5 388.2,137.3 387.2,138.2 386.2,139.1 385.2,140.0 384.2,141.0 383.2,141.9 382.2,142.8 381.2,143.8 380.2,144.7 379.2,145.7 378.2,146.7 377.2,147.7 376.2,148.7 375.2,149.7 374.2,150.8 373.2,151.8 372.2,152.9 371.2,154.0 370.2,155.1 369.2,156.3 368.2,157.4 367.2,158.6 366.2,159.8 365.2,161.0 364.2,162.2 363.2,163.5 362.2,164.8 361.2,166.3 360.2,167.8M359.2,169.5 358.2,171.1 357.2,172.6M356.2,174.3h0.01M355.2,176.0h0.01M354.2,177.8h0.01M353.2,179.8h0.01M352.2,182.8h0.01M351.2,186.7h0.01M350.2,191.3h0.01M349.2,197.1h0.01M349.2,202.5 350.2,203.9 352.2,204.6 354.2,204.8 356.2,204.9 358.2,205.0 360.2,205.1 362.2,205.1 364.2,205.1 366.2,205.1 368.2,205.2 370.2,205.2 372.2,205.2 374.2,205.2 376.2,205.2 378.2,205.2 380.2,205.2 382.2,205.2 384.2,205.2 386.2,205.2 388.2,205.2 390.2,205.2 392.2,205.2 394.2,205.2 396.2,205.2 398.2,205.2 400.2,205.2 402.2,205.2 404.2,205.2 406.2,205.2 408.2,205.3 410.2,205.3 412.2,205.3 414.2,205.3 416.2,205.3 418.2,205.3 420.2,205.3 422.2,205.3 424.2,205.3 426.2,205.3 428.2,205.3 430.2,205.3 432.2,205.3 434.2,205.3 436.2,205.3 438.2,205.3 440.2,205.3 442.2,205.3 444.2,205.3 446.2,205.3 448.2,205.3 450.2,205.3 452.2,205.3 454.2,205.3 456.2,205.3 458.2,205.3 460.2,205.3 462.2,205.3 464.2,205.3 466.2,205.3 468.2,205.3 470.2,205.3 472.2,205.3 474.2,205.3 476.2,205.3 478.2,205.3 480.2,205.3 482.2,205.3 484.2,205.3 486.2,205.3 488.2,205.3 490.2,205.3 492.2,205.3 494.2,205.3 496.2,205.3 498.2,205.3 500.2,205.3 502.2,205.3 504.2,205.3 506.2,205.3 508.2,205.3 510.2,205.3 512.2,205.3 514.2,205.3 516.2,205.3 518.2,205.3 520.2,205.3 522.2,205.3 524.2,205.3 526.2,205.3 528.2,205.3 530.2,205.3 532.2,205.3 534.2,205.3 536.2,205.3 538.2,205.3 540.2,205.3 542.2,205.3 544.2,205.3 546.2,205.3 548.2,205.3 550.2,205.3 552.2,205.3 554.2,205.3 556.2,205.3 558.2,205.3 560.2,205.3 562.2,205.3 564.2,205.3 566.2,205.3 568.2,205.3 570.2,205.3 572.2,205.3 574.2,205.3 576.2,205.3 578.2,205.3 580.2,205.3 582.2,205.3 584.2,205.3 586.2,205.3 588.2,205.3 589.2,205.3" fill="none" stroke="#4fb983" stroke-width="1.25" stroke-linecap="round" stroke-linejoin="round"/>
<path d="M358.0,171.1 358.5,170.3 359.0,169.5 359.5,168.8 360.0,168.0 360.5,167.2 361.0,166.4 361.5,165.6 362.1,164.8 362.7,164.0 363.3,163.2 363.9,162.5 364.5,161.7 365.2,160.9 365.8,160.1 366.5,159.3 367.1,158.5 367.8,157.7 368.5,157.0 369.2,156.2 369.9,155.4 370.6,154.6 371.3,153.8 372.0,153.0 372.7,152.2 373.5,151.4 374.2,150.7 375.0,149.9 375.7,149.1 376.5,148.3 377.3,147.5 378.1,146.7 378.9,145.9 379.7,145.1 380.5,144.4 381.4,143.6 382.2,142.8 383.0,142.0 383.9,141.2 384.7,140.4 385.6,139.6 386.5,138.9 387.3,138.1 388.2,137.3 389.1,136.5 390.0,135.7 390.9,134.9 391.8,134.1 392.8,133.3 393.7,132.6 394.6,131.8 395.6,131.0 396.5,130.2 397.5,129.4 398.5,128.6 399.4,127.8 400.4,127.0 401.4,126.3" fill="none" stroke="#4fb983" stroke-width="1.45" stroke-linecap="round"/>
<path d="M401.0,126.5 403.2,124.8 405.3,123.2 407.6,121.5 409.8,119.9 412.1,118.2 414.4,116.6 416.7,114.9 419.1,113.3 421.5,111.6 424.0,109.9 426.4,108.3 428.9,106.6 431.5,105.0 434.1,103.3 436.7,101.7 439.4,100.0 442.1,98.4 444.9,96.7 447.6,95.0 450.5,93.4 453.3,91.7 456.2,90.1 459.1,88.4 462.1,86.8 465.1,85.1 468.1,83.5 471.2,81.8 474.3,80.2 477.4,78.5 480.6,76.8 483.8,75.2 487.0,73.5 490.3,71.9 493.6,70.2 497.0,68.6 500.4,66.9 503.9,65.3 507.4,63.6 510.9,61.9 512.5,61.2" fill="none" stroke="#d9574f" stroke-width="1.5" stroke-linecap="round"/>
<path d="M512.5,61.1 517.0,59.1 521.6,57.0 526.1,55.0 530.7,52.9 535.4,50.9 540.1,48.8 544.8,46.7 549.5,44.7 554.2,42.6 558.9,40.6 563.6,38.5 568.3,36.5 572.9,34.4 577.5,32.3 580.0,31.2" fill="none" stroke="#f8b2a2" stroke-width="1.5" stroke-linecap="round"/>
</g>
<line x1="401.9" y1="135.8" x2="401.9" y2="156.8" stroke="#5cc08e" stroke-width="1.3" />
<path d="M401.9,132.8 L400,137 L403.8,137 Z" fill="#5cc08e"/>
<line x1="512.5" y1="69.9" x2="512.5" y2="91.2" stroke="#d9625d" stroke-width="1.3" />
<path d="M512.5,66.9 L510.6,71.1 L514.4,71.1 Z" fill="#d9625d"/>
<line x1="579.4" y1="39" x2="579.4" y2="59.9" stroke="#f7ad9c" stroke-width="1.3" />
<path d="M579.4,36 L577.5,40.2 L581.3,40.2 Z" fill="#f7ad9c"/>
<text x="377.9" y="173" font-size="9.6" fill="#52bb86" text-anchor="start" font-weight="normal" >52.21 kHz</text>
<text x="490" y="104.6" font-size="9.6" fill="#d8625d" text-anchor="start" font-weight="normal" >56.58 kHz</text>
<text x="541.7" y="71.9" font-size="9.6" fill="#f6ae9d" text-anchor="start" font-weight="normal" >59.22 kHz</text>
<g clip-path="url(#cc)">
<path d="M42,458.4 C45,458.38 54.5,458.4 60,458.3 C65.5,458.2 71,458.05 75,457.8 C79,457.55 81.5,457.13 84,456.8 C86.5,456.47 88.15,456.23 90,455.8 C91.85,455.37 93.68,455.08 95.1,454.2 C96.52,453.32 97.52,451.95 98.5,450.5 C99.48,449.05 99.97,447.32 101,445.5 C102.03,443.68 103.45,441.8 104.7,439.6 C105.95,437.4 107.1,434.77 108.5,432.3 C109.9,429.83 111.35,427.18 113.1,424.8 C114.85,422.42 116.98,420.02 119,418 C121.02,415.98 123.37,414.33 125.2,412.7 C127.03,411.07 128.38,409.62 130,408.2 C131.62,406.78 133.27,405.53 134.9,404.2 C136.53,402.87 138.98,400.87 139.8,400.2 L140.6,401 L141.6,440 L142.3,458.8 L143.2,460.2 L144.6,457 L146.2,458.9 L298.5,459.0" fill="none" stroke="#4fb983" stroke-width="1.0" stroke-linejoin="round"/>
<path d="M42,455.7 C45,455.66 55.17,455.56 60,455.43 C64.83,455.3 68,455.24 71,454.93 C74,454.62 75.7,454.19 78,453.57 C80.3,452.94 82.63,452 84.8,451.2 C86.97,450.41 89,449.73 91,448.8 C93,447.87 95.27,446.77 96.8,445.6 C98.33,444.43 99,443.4 100.2,441.8 C101.4,440.2 102.7,438.13 104,436 C105.3,433.87 106.48,431.3 108,429 C109.52,426.7 111.27,424.33 113.1,422.2 C114.93,420.07 116.98,418.1 119,416.2 C121.02,414.3 123.37,412.45 125.2,410.8 C127.03,409.15 128.37,407.77 130,406.3 C131.63,404.83 133.5,403.42 135,402 C136.5,400.58 136.8,399.77 139,397.8 C141.2,395.83 145.2,392.6 148.2,390.2 C151.2,387.8 153.98,385.62 157,383.4 C160.02,381.18 163.3,378.98 166.3,376.9 C169.3,374.82 171.97,372.92 175,370.9 C178.03,368.88 181.42,366.82 184.5,364.8 C187.58,362.78 190.48,360.73 193.5,358.8 C196.52,356.87 199.85,354.83 202.6,353.2 C205.35,351.57 207.77,350.27 210,349 C212.23,347.73 213.98,346.73 216,345.6 C218.02,344.47 220.1,343.33 222.1,342.2 C224.1,341.07 225.98,339.97 228,338.8 C230.02,337.63 233.17,335.8 234.2,335.2 L241.0,331 L241.4,456.3 L242.2,452.8 L244,456.3 L298.5,456.4" fill="none" stroke="#d9574f" stroke-width="1.0" stroke-linejoin="round"/>
<path d="M42,453.2 C44.17,453.13 50.72,452.97 55,452.78 C59.28,452.59 64.03,452.43 67.7,452.06 C71.37,451.69 74.15,451.18 77,450.57 C79.85,449.96 82.8,449.25 84.8,448.4 C86.8,447.56 87.57,446.63 89,445.5 C90.43,444.37 91.98,442.85 93.4,441.6 C94.82,440.35 96.23,439.13 97.5,438 C98.77,436.87 99.42,436.55 101,434.8 C102.58,433.05 104.98,429.98 107,427.5 C109.02,425.02 111.1,422.07 113.1,419.9 C115.1,417.73 116.98,416.22 119,414.5 C121.02,412.78 123.37,411.08 125.2,409.6 C127.03,408.12 128.37,406.95 130,405.6 C131.63,404.25 133.5,402.87 135,401.5 C136.5,400.13 136.8,399.35 139,397.4 C141.2,395.45 145.2,392.2 148.2,389.8 C151.2,387.4 153.98,385.22 157,383 C160.02,380.78 163.3,378.58 166.3,376.5 C169.3,374.42 171.97,372.52 175,370.5 C178.03,368.48 181.42,366.42 184.5,364.4 C187.58,362.38 190.48,360.33 193.5,358.4 C196.52,356.47 199.85,354.43 202.6,352.8 C205.35,351.17 207.77,349.87 210,348.6 C212.23,347.33 213.98,346.33 216,345.2 C218.02,344.07 220.1,342.93 222.1,341.8 C224.1,340.67 225.98,339.57 228,338.4 C230.02,337.23 232.12,336.07 234.2,334.8 C236.28,333.53 238.48,332.17 240.5,330.8 C242.52,329.43 244.55,327.97 246.3,326.6 C248.05,325.23 249.55,323.9 251,322.6 C252.45,321.3 253.75,320.1 255,318.8 C256.25,317.5 257.47,316.07 258.5,314.8 C259.53,313.53 260.42,312.37 261.2,311.2 C261.98,310.03 262.63,308.93 263.2,307.8 C263.77,306.67 264.2,305.57 264.6,304.4 C265,303.23 265.3,302.17 265.6,300.8 C265.9,299.43 266.27,296.97 266.4,296.2 L267.6,292 L268.6,288 L269.6,291 L270.3,296 L271.2,452.6 L272.4,453.3 L298.5,453.3" fill="none" stroke="#4ea0da" stroke-width="1.0" stroke-linejoin="round"/>
<path d="M42,450.5 C44.17,450.42 50.72,450.31 55,450.02 C59.28,449.73 64.03,449.31 67.7,448.74 C71.37,448.17 74.15,447.48 77,446.61 C79.85,445.74 82.8,444.55 84.8,443.5 C86.8,442.45 87.57,441.47 89,440.3 C90.43,439.13 91.98,437.83 93.4,436.5 C94.82,435.17 96.07,433.8 97.5,432.3 C98.93,430.8 100.42,429.13 102,427.5 C103.58,425.87 105.15,424.17 107,422.5 C108.85,420.83 111.1,419.2 113.1,417.5 C115.1,415.8 116.98,414.05 119,412.3 C121.02,410.55 123.37,408.45 125.2,407 C127.03,405.55 128.37,404.68 130,403.6 C131.63,402.52 133.5,401.7 135,400.5 C136.5,399.3 136.8,398.35 139,396.4 C141.2,394.45 145.2,391.2 148.2,388.8 C151.2,386.4 153.98,384.22 157,382 C160.02,379.78 163.3,377.58 166.3,375.5 C169.3,373.42 171.97,371.52 175,369.5 C178.03,367.48 181.42,365.42 184.5,363.4 C187.58,361.38 190.48,359.33 193.5,357.4 C196.52,355.47 199.85,353.43 202.6,351.8 C205.35,350.17 207.77,348.87 210,347.6 C212.23,346.33 213.98,345.33 216,344.2 C218.02,343.07 220.1,341.93 222.1,340.8 C224.1,339.67 225.98,338.57 228,337.4 C230.02,336.23 232.12,335.07 234.2,333.8 C236.28,332.53 238.48,331.17 240.5,329.8 C242.52,328.43 244.55,326.97 246.3,325.6 C248.05,324.23 249.55,322.9 251,321.6 C252.45,320.3 253.75,319.1 255,317.8 C256.25,316.5 257.47,315.07 258.5,313.8 C259.53,312.53 260.42,311.37 261.2,310.2 C261.98,309.03 262.63,307.93 263.2,306.8 C263.77,305.67 264.2,304.57 264.6,303.4 C265,302.23 265.3,301.17 265.6,299.8 C265.9,298.43 266.17,296.72 266.4,295.2 C266.63,293.68 266.8,292.07 267,290.7 C267.2,289.33 267.37,287.88 267.6,287 C267.83,286.12 268.27,285.67 268.4,285.4 L269.4,286.2 L270.5,290 L271.6,300 L272.4,320 L273.0,449.6 L274.2,450.5 L298.5,450.5" fill="none" stroke="#a15a3d" stroke-width="1.1" stroke-linejoin="round"/>
<path d="M42,449 C44.17,448.94 50.72,448.95 55,448.65 C59.28,448.35 64.03,447.73 67.7,447.2 C71.37,446.68 74.15,446.23 77,445.49 C79.85,444.76 82.8,443.72 84.8,442.8 C86.8,441.89 87.57,441.22 89,440 C90.43,438.78 91.98,436.92 93.4,435.5 C94.82,434.08 96.07,433 97.5,431.5 C98.93,430 100.42,428.25 102,426.5 C103.58,424.75 105.15,422.75 107,421 C108.85,419.25 111.1,417.63 113.1,416 C115.1,414.37 116.98,412.87 119,411.2 C121.02,409.53 123.37,407.45 125.2,406 C127.03,404.55 128.37,403.63 130,402.5 C131.63,401.37 133.5,400.48 135,399.2 C136.5,397.92 136.8,396.8 139,394.8 C141.2,392.8 145.2,389.6 148.2,387.2 C151.2,384.8 153.98,382.62 157,380.4 C160.02,378.18 163.3,375.98 166.3,373.9 C169.3,371.82 171.97,369.92 175,367.9 C178.03,365.88 181.42,363.82 184.5,361.8 C187.58,359.78 190.48,357.73 193.5,355.8 C196.52,353.87 199.85,351.83 202.6,350.2 C205.35,348.57 207.77,347.27 210,346 C212.23,344.73 213.98,343.73 216,342.6 C218.02,341.47 220.1,340.33 222.1,339.2 C224.1,338.07 225.98,336.97 228,335.8 C230.02,334.63 232.12,333.47 234.2,332.2 C236.28,330.93 238.48,329.57 240.5,328.2 C242.52,326.83 244.55,325.37 246.3,324 C248.05,322.63 249.55,321.3 251,320 C252.45,318.7 253.75,317.5 255,316.2 C256.25,314.9 257.47,313.47 258.5,312.2 C259.53,310.93 260.42,309.77 261.2,308.6 C261.98,307.43 262.63,306.33 263.2,305.2 C263.77,304.07 264.2,302.97 264.6,301.8 C265,300.63 265.3,299.57 265.6,298.2 C265.9,296.83 266.17,295.12 266.4,293.6 C266.63,292.08 266.8,290.47 267,289.1 C267.2,287.73 267.37,286.28 267.6,285.4 C267.83,284.52 268.27,284.07 268.4,283.8 L269.6,285.2 L270.8,290 L272,300 L272.8,320 L273.4,448.6 L274.5,449.8 L298.5,449.9" fill="none" stroke="#f0c050" stroke-width="1.0" stroke-linejoin="round"/>
<path d="M42,447.8 C44.17,447.72 50.72,447.7 55,447.35 C59.28,447 64.03,446.38 67.7,445.7 C71.37,445.03 74.15,444.24 77,443.29 C79.85,442.34 82.63,441.25 84.8,440 C86.97,438.75 88.3,437.23 90,435.8 C91.7,434.37 93.17,433.12 95,431.4 C96.83,429.68 98.98,427.42 101,425.5 C103.02,423.58 105.1,421.68 107.1,419.9 C109.1,418.12 110.98,416.42 113,414.8 C115.02,413.18 117.2,411.7 119.2,410.2 C121.2,408.7 122.98,407.2 125,405.8 C127.02,404.4 129.63,402.93 131.3,401.8 C132.97,400.67 133.72,400 135,399 C136.28,398 136.8,397.6 139,395.8 C141.2,394 145.2,390.6 148.2,388.2 C151.2,385.8 153.98,383.62 157,381.4 C160.02,379.18 163.3,376.98 166.3,374.9 C169.3,372.82 171.97,370.92 175,368.9 C178.03,366.88 181.42,364.82 184.5,362.8 C187.58,360.78 190.48,358.73 193.5,356.8 C196.52,354.87 199.85,352.83 202.6,351.2 C205.35,349.57 207.77,348.27 210,347 C212.23,345.73 213.98,344.73 216,343.6 C218.02,342.47 220.1,341.33 222.1,340.2 C224.1,339.07 225.98,337.97 228,336.8 C230.02,335.63 232.12,334.47 234.2,333.2 C236.28,331.93 238.48,330.57 240.5,329.2 C242.52,327.83 244.55,326.37 246.3,325 C248.05,323.63 249.55,322.3 251,321 C252.45,319.7 253.75,318.5 255,317.2 C256.25,315.9 257.47,314.47 258.5,313.2 C259.53,311.93 260.42,310.77 261.2,309.6 C261.98,308.43 262.63,307.33 263.2,306.2 C263.77,305.07 264.2,303.97 264.6,302.8 C265,301.63 265.3,300.57 265.6,299.2 C265.9,297.83 266.17,296.12 266.4,294.6 C266.63,293.08 266.8,291.47 267,290.1 C267.2,288.73 267.37,287.28 267.6,286.4 C267.83,285.52 268.27,285.07 268.4,284.8 L269.4,284.6 L270.8,288 L272.2,296 L273.4,320 L274.3,447.6 L275.2,448.3 L298.5,448.3" fill="none" stroke="#f8b2a2" stroke-width="1.0" stroke-linejoin="round"/>
</g>
<text x="149.1" y="432.8" font-size="9.6" fill="#52bb86" text-anchor="start" font-weight="normal" >50.319 kHz</text>
<text x="187.7" y="393.5" font-size="9.6" fill="#d8625d" text-anchor="start" font-weight="normal" >50.491 kHz</text>
<text x="216" y="292.8" font-size="9.6" fill="#f6ae9d" text-anchor="start" font-weight="normal" >50.541 kHz</text>
<g clip-path="url(#cd)">
<path d="M332.2,450.5 334.2,450.2 336.2,449.9 338.2,449.5 340.2,449.2 342.2,448.8 344.2,448.4 346.2,447.9 348.2,447.5 350.2,447.0 352.2,446.4 354.2,445.8 356.2,445.2 358.2,444.5 360.2,443.8 362.2,443.0 364.2,442.1 366.2,441.2 368.2,440.1 370.2,439.0 372.2,437.8 374.2,436.4 376.2,435.0 378.2,433.5 379.2,432.7 380.2,431.8 381.2,431.0 382.2,430.1 383.2,429.2 384.2,428.2 385.2,427.3 386.2,426.4 387.2,425.4 388.2,424.4 389.2,423.4 390.2,422.4 391.2,421.4 392.2,420.4 393.2,419.4 394.2,418.3 395.2,417.3 396.2,416.3 397.2,415.3 398.2,414.2 399.2,413.2 400.2,412.2 401.2,411.2 402.2,410.2 403.2,409.2 404.2,408.2 405.2,407.2 406.2,406.2 407.2,405.3 408.2,404.3 409.2,403.4 410.2,402.5 411.2,401.6 412.2,400.7 413.2,399.8 414.2,399.0 415.2,398.2 417.2,396.6 419.2,395.2 421.2,393.7 423.2,392.3 425.2,390.9 427.2,389.6 429.2,388.2 431.2,386.9 433.2,385.5 435.2,384.2 437.2,382.9 439.2,381.6 441.2,380.3 443.2,379.1 445.2,377.8 447.2,376.6 449.2,375.3 451.2,374.1 453.2,372.8 455.2,371.6 457.2,370.4 459.2,369.1 461.2,367.9 463.2,366.7 465.2,365.5 467.2,364.2 469.2,363.0 471.2,361.7 473.2,360.5 475.2,359.2 477.2,357.9 479.2,356.7 481.2,355.5 483.2,354.3 485.2,353.2 487.2,352.0 489.2,350.9 491.2,349.8 493.2,348.7 495.2,347.6 497.2,346.5 499.2,345.5 501.2,344.4 503.2,343.4 505.2,342.5 507.2,341.5 509.2,340.5 511.2,339.5 513.2,338.5 515.2,337.6 517.2,336.5 519.2,335.5 521.2,334.4 523.2,333.3 525.2,332.3 527.2,331.1 529.2,330.0 531.2,328.9 533.2,327.7 535.2,326.4 537.2,325.2 539.2,324.0 541.2,322.8 543.2,321.5 545.2,320.1 547.2,318.7 549.2,317.2 550.2,316.3 551.2,315.5 552.2,314.6 553.2,313.7 554.2,312.7 555.2,311.6M556.2,310.4h0.01M557.2,308.8h0.01M558.2,306.8h0.01M559.2,304.1h0.01M560.2,300.7h0.01M561.2,298.1h0.01M561.2,305.2h0.01M560.2,308.6h0.01M559.2,310.7h0.01M558.2,312.1h0.01M557.2,313.3 556.2,314.3 555.2,315.3 554.2,316.3 553.2,317.3 552.2,318.1 551.2,319.0 549.2,320.5 547.2,321.9 545.2,323.3 543.2,324.6 541.2,326.0 539.2,327.3 537.2,328.6 535.2,329.8 533.2,331.0 531.2,332.2 529.2,333.4 527.2,334.6 525.2,335.7 523.2,336.8 521.2,337.9 519.2,338.9 517.2,340.0 515.2,341.0 513.2,342.1 511.2,343.1 509.2,344.2 507.2,345.3 505.2,346.4 503.2,347.6 501.2,348.7 499.2,349.9 497.2,351.1 495.2,352.4 493.2,353.6 491.2,354.9 489.2,356.2 487.2,357.6 485.2,358.9 483.2,360.3 481.2,361.7 479.2,363.1 477.2,364.5 475.2,365.9 473.2,367.3 471.2,368.7 469.2,370.0 467.2,371.4 465.2,372.8 463.2,374.2 461.2,375.7 459.2,377.1 457.2,378.5 455.2,380.0 453.2,381.5 451.2,383.0 449.2,384.6 447.2,386.2 446.2,387.0 445.2,387.8 444.2,388.6 443.2,389.5 442.2,390.3 441.2,391.2 440.2,392.0 439.2,392.9 438.2,393.8 437.2,394.7 436.2,395.7 435.2,396.6 434.2,397.7 433.2,398.8M432.2,400.0h0.01M431.2,401.3h0.01M430.2,402.7h0.01M429.2,404.2h0.01M428.2,405.8h0.01M427.2,407.6h0.01M426.2,409.6h0.01M425.2,411.7h0.01M424.2,414.2h0.01M423.2,417.4h0.01M422.2,424.0 422.2,425.4M423.2,430.9h0.01M424.2,433.3h0.01M425.2,435.0h0.01M426.2,436.4h0.01M427.2,437.5 428.2,438.5 429.2,439.4 431.2,440.9 433.2,442.2 435.2,443.2 437.2,444.2 439.2,445.0 441.2,445.7 443.2,446.4 445.2,447.0 447.2,447.6 449.2,448.1 451.2,448.5 453.2,448.9 455.2,449.3 457.2,449.7 459.2,450.0 461.2,450.3 463.2,450.6 465.2,450.9 467.2,451.2 469.2,451.4 471.2,451.7 473.2,451.9 475.2,452.1 477.2,452.3 479.2,452.5 481.2,452.7 483.2,452.8 485.2,453.0 487.2,453.1 489.2,453.3 491.2,453.4 493.2,453.6 495.2,453.7 497.2,453.8 499.2,453.9 501.2,454.1 503.2,454.2 505.2,454.3 507.2,454.4 509.2,454.5 511.2,454.6 513.2,454.7 515.2,454.8 517.2,454.9 519.2,454.9 521.2,455.0 523.2,455.1 525.2,455.2 527.2,455.3 529.2,455.3 531.2,455.4 533.2,455.5 535.2,455.5 537.2,455.6 539.2,455.7 541.2,455.7 543.2,455.8 545.2,455.8 547.2,455.9 549.2,455.9 551.2,456.0 553.2,456.0 555.2,456.1 557.2,456.1 559.2,456.2 561.2,456.2 563.2,456.3 565.2,456.3 567.2,456.4 569.2,456.4 571.2,456.4 573.2,456.5 575.2,456.5 577.2,456.6 579.2,456.6 581.2,456.6 583.2,456.7 585.2,456.7 587.2,456.7 589.2,456.8 590.2,456.8" fill="none" stroke="#f8b2a2" stroke-width="1.2" stroke-linecap="round" stroke-linejoin="round" stroke-opacity="0.8"/>
<path d="M332.2,452.7 334.2,452.5 336.2,452.3 338.2,452.0 340.2,451.7 342.2,451.4 344.2,451.1 346.2,450.8 348.2,450.4 350.2,450.0 352.2,449.6 354.2,449.1 356.2,448.6 358.2,448.1 360.2,447.5 362.2,446.8 364.2,446.1 366.2,445.3 368.2,444.4 370.2,443.4 372.2,442.3 374.2,441.1 376.2,439.8 378.2,438.3 380.2,436.7 381.2,435.9 382.2,435.0 383.2,434.0 384.2,433.1 385.2,432.1 386.2,431.1 387.2,430.0 388.2,429.0 389.2,427.9 390.2,426.8 391.2,425.7 392.2,424.6 393.2,423.5M394.2,422.3h0.01M395.2,421.2h0.01M396.2,420.1h0.01M397.2,418.9h0.01M398.2,417.8h0.01M399.2,416.7 400.2,415.6 401.2,414.5 402.2,413.4 403.2,412.3 404.2,411.2 405.2,410.1 406.2,409.1 407.2,408.0 408.2,407.0 409.2,405.9 410.2,404.9 411.2,403.9 412.2,403.0 413.2,402.0 414.2,401.1 415.2,400.2 416.2,399.3 417.2,398.4 418.2,397.6 420.2,396.1 422.2,394.6 424.2,393.1 426.2,391.7 428.2,390.3 430.2,388.9 432.2,387.5 434.2,386.1 436.2,384.8 438.2,383.4 440.2,382.1 442.2,380.8 444.2,379.5 446.2,378.3 448.2,377.0 450.2,375.7 452.2,374.4 454.2,373.2 456.2,371.9 458.2,370.7 460.2,369.4 462.2,368.2 464.2,367.0 466.2,365.7 468.2,364.5 470.2,363.2 472.2,361.9 474.2,360.7 476.2,359.4 478.2,358.1 480.2,356.9 482.2,355.6 484.2,354.4 486.2,353.3 488.2,352.1 490.2,351.0 492.2,349.9 494.2,348.8 496.2,347.7 498.2,346.6 500.2,345.5 502.2,344.5 504.2,343.5 506.2,342.5 508.2,341.5 510.2,340.5 512.2,339.5 514.2,338.6 516.2,337.6 518.2,336.5 520.2,335.5 522.2,334.4 524.2,333.3 526.2,332.2 528.2,331.1 530.2,330.0 532.2,328.8 534.2,327.6 536.2,326.4 538.2,325.2 540.2,323.9 542.2,322.7 544.2,321.4 546.2,320.1 548.2,318.6 550.2,317.1 551.2,316.2 552.2,315.3 553.2,314.5 554.2,313.5 555.2,312.6 556.2,311.5M557.2,310.3h0.01M558.2,308.8h0.01M559.2,307.2 559.2,308.6M558.2,310.8h0.01M557.2,312.2h0.01M556.2,313.4 555.2,314.4 554.2,315.5 553.2,316.4 552.2,317.4 551.2,318.2 550.2,319.1 548.2,320.6 546.2,322.0 544.2,323.4 542.2,324.7 540.2,326.0 538.2,327.3 536.2,328.6 534.2,329.9 532.2,331.1 530.2,332.3 528.2,333.4 526.2,334.6 524.2,335.7 522.2,336.8 520.2,337.9 518.2,338.9 516.2,340.0 514.2,341.0 512.2,342.0 510.2,343.1 508.2,344.1 506.2,345.2 504.2,346.4 502.2,347.5 500.2,348.7 498.2,349.8 496.2,351.0 494.2,352.2 492.2,353.5 490.2,354.7 488.2,356.0 486.2,357.4 484.2,358.7 482.2,360.1 480.2,361.5 478.2,362.9 476.2,364.3 474.2,365.6 472.2,367.0 470.2,368.3 468.2,369.7 466.2,371.1 464.2,372.4 462.2,373.8 460.2,375.2 458.2,376.6 456.2,378.1 454.2,379.5 452.2,380.9 450.2,382.4 448.2,383.9 446.2,385.4 444.2,387.0 443.2,387.9 442.2,388.7 441.2,389.5 440.2,390.3 439.2,391.1 438.2,391.9 437.2,392.8 436.2,393.7 435.2,394.5 434.2,395.5 433.2,396.4 432.2,397.4 431.2,398.4 430.2,399.5M429.2,400.7h0.01M428.2,402.0h0.01M427.2,403.4h0.01M426.2,404.8h0.01M425.2,406.4h0.01M424.2,408.0h0.01M423.2,409.8h0.01M422.2,411.7h0.01M421.2,413.8h0.01M420.2,416.2h0.01M419.2,419.1h0.01M418.2,423.4h0.01M418.2,431.5h0.01M419.2,434.9h0.01M420.2,436.9h0.01M421.2,438.4h0.01M422.2,439.7 423.2,440.7 424.2,441.6 425.2,442.5 427.2,443.8 429.2,445.0 431.2,446.0 433.2,446.8 435.2,447.6 437.2,448.2 439.2,448.8 441.2,449.3 443.2,449.8 445.2,450.2 447.2,450.6 449.2,451.0 451.2,451.3 453.2,451.6 455.2,451.9 457.2,452.2 459.2,452.5 461.2,452.7 463.2,452.9 465.2,453.1 467.2,453.3 469.2,453.5 471.2,453.7 473.2,453.9 475.2,454.0 477.2,454.2 479.2,454.3 481.2,454.4 483.2,454.6 485.2,454.7 487.2,454.8 489.2,454.9 491.2,455.0 493.2,455.1 495.2,455.2 497.2,455.3 499.2,455.4 501.2,455.5 503.2,455.6 505.2,455.7 507.2,455.7 509.2,455.8 511.2,455.9 513.2,456.0 515.2,456.0 517.2,456.1 519.2,456.2 521.2,456.2 523.2,456.3 525.2,456.3 527.2,456.4 529.2,456.5 531.2,456.5 533.2,456.6 535.2,456.6 537.2,456.7 539.2,456.7 541.2,456.8 543.2,456.8 545.2,456.8 547.2,456.9 549.2,456.9 551.2,457.0 553.2,457.0 555.2,457.0 557.2,457.1 559.2,457.1 561.2,457.1 563.2,457.2 565.2,457.2 567.2,457.2 569.2,457.3 571.2,457.3 573.2,457.3 575.2,457.4 577.2,457.4 579.2,457.4 581.2,457.5 583.2,457.5 585.2,457.5 587.2,457.5 589.2,457.6 590.2,457.6" fill="none" stroke="#f0c050" stroke-width="1.2" stroke-linecap="round" stroke-linejoin="round" stroke-opacity="0.8"/>
<path d="M332.2,455.6 334.2,455.4 336.2,455.3 338.2,455.1 340.2,455.0 342.2,454.8 344.2,454.6 346.2,454.4 348.2,454.1 350.2,453.9 352.2,453.6 354.2,453.3 356.2,453.0 358.2,452.7 360.2,452.3 362.2,451.8 364.2,451.3 366.2,450.8 368.2,450.2 370.2,449.5 372.2,448.7 374.2,447.8 376.2,446.8 378.2,445.6 380.2,444.2 382.2,442.7 383.2,441.8 384.2,440.9 385.2,439.9 386.2,438.8 387.2,437.7M388.2,436.5h0.01M389.2,435.3h0.01M390.2,434.1h0.01M391.2,432.8h0.01M392.2,431.5h0.01M393.2,430.1h0.01M394.2,428.8h0.01M395.2,427.4h0.01M396.2,426.0h0.01M397.2,424.7h0.01M398.2,423.4h0.01M399.2,422.0h0.01M400.2,420.7h0.01M401.2,419.4h0.01M402.2,418.1h0.01M403.2,416.8h0.01M404.2,415.5h0.01M405.2,414.3h0.01M406.2,413.1h0.01M407.2,411.9h0.01M408.2,410.7h0.01M409.2,409.6h0.01M410.2,408.4h0.01M411.2,407.3 412.2,406.2 413.2,405.1 414.2,404.0 415.2,403.0 416.2,402.0 417.2,401.0 418.2,400.0 419.2,399.1 420.2,398.2 421.2,397.4 422.2,396.6 424.2,395.0 426.2,393.5 428.2,392.0 430.2,390.6 432.2,389.1 434.2,387.7 436.2,386.3 438.2,384.9 440.2,383.5 442.2,382.2 444.2,380.8 446.2,379.5 448.2,378.2 450.2,376.9 452.2,375.6 454.2,374.3 456.2,373.0 458.2,371.8 460.2,370.5 462.2,369.2 464.2,368.0 466.2,366.7 468.2,365.5 470.2,364.2 472.2,362.9 474.2,361.6 476.2,360.3 478.2,359.0 480.2,357.7 482.2,356.5 484.2,355.2 486.2,354.0 488.2,352.8 490.2,351.7 492.2,350.5 494.2,349.4 496.2,348.3 498.2,347.2 500.2,346.1 502.2,345.1 504.2,344.0 506.2,343.0 508.2,342.0 510.2,341.0 512.2,340.0 514.2,339.0 516.2,338.0 518.2,337.0 520.2,336.0 522.2,334.9 524.2,333.8 526.2,332.7 528.2,331.6 530.2,330.4 532.2,329.3 534.2,328.1 536.2,326.8 538.2,325.6 540.2,324.4 542.2,323.1 544.2,321.8 546.2,320.5 548.2,319.0 550.2,317.5 551.2,316.7 552.2,315.8 553.2,314.9 554.2,314.0 555.2,313.0 556.2,312.0M557.2,310.8h0.01M558.2,309.4 558.2,310.1M557.2,311.7h0.01M556.2,312.9 555.2,314.0 554.2,315.0 553.2,315.9 552.2,316.9 551.2,317.8 550.2,318.6 548.2,320.1 546.2,321.6 544.2,322.9 542.2,324.3 540.2,325.6 538.2,326.8 536.2,328.1 534.2,329.4 532.2,330.6 530.2,331.8 528.2,332.9 526.2,334.1 524.2,335.2 522.2,336.3 520.2,337.4 518.2,338.4 516.2,339.5 514.2,340.5 512.2,341.5 510.2,342.5 508.2,343.6 506.2,344.6 504.2,345.7 502.2,346.9 500.2,348.0 498.2,349.1 496.2,350.3 494.2,351.5 492.2,352.7 490.2,353.9 488.2,355.2 486.2,356.5 484.2,357.8 482.2,359.1 480.2,360.5 478.2,361.9 476.2,363.2 474.2,364.6 472.2,365.9 470.2,367.3 468.2,368.6 466.2,369.9 464.2,371.2 462.2,372.6 460.2,373.9 458.2,375.3 456.2,376.7 454.2,378.1 452.2,379.5 450.2,380.9 448.2,382.4 446.2,383.8 444.2,385.3 442.2,386.9 440.2,388.4 438.2,390.0 436.2,391.6 435.2,392.4 434.2,393.2 433.2,394.1 432.2,394.9 431.2,395.8 430.2,396.7 429.2,397.7 428.2,398.7 427.2,399.7M426.2,400.9h0.01M425.2,402.1h0.01M424.2,403.3h0.01M423.2,404.6h0.01M422.2,406.0h0.01M421.2,407.5h0.01M420.2,409.0h0.01M419.2,410.6h0.01M418.2,412.3h0.01M417.2,414.1h0.01M416.2,416.1h0.01M415.2,418.2h0.01M414.2,420.7h0.01M413.2,423.7h0.01M412.2,427.8h0.01M412.2,436.6h0.01M413.2,439.7h0.01M414.2,441.6h0.01M415.2,443.1h0.01M416.2,444.3 417.2,445.3 418.2,446.1 420.2,447.5 422.2,448.6 424.2,449.4 426.2,450.2 428.2,450.8 430.2,451.4 432.2,451.9 434.2,452.4 436.2,452.8 438.2,453.1 440.2,453.4 442.2,453.7 444.2,454.0 446.2,454.2 448.2,454.5 450.2,454.7 452.2,454.9 454.2,455.0 456.2,455.2 458.2,455.4 460.2,455.5 462.2,455.7 464.2,455.8 466.2,455.9 468.2,456.0 470.2,456.1 472.2,456.2 474.2,456.3 476.2,456.4 478.2,456.5 480.2,456.6 482.2,456.7 484.2,456.7 486.2,456.8 488.2,456.9 490.2,457.0 492.2,457.0 494.2,457.1 496.2,457.1 498.2,457.2 500.2,457.3 502.2,457.3 504.2,457.4 506.2,457.4 508.2,457.4 510.2,457.5 512.2,457.5 514.2,457.6 516.2,457.6 518.2,457.7 520.2,457.7 522.2,457.7 524.2,457.8 526.2,457.8 528.2,457.8 530.2,457.9 532.2,457.9 534.2,457.9 536.2,458.0 538.2,458.0 540.2,458.0 542.2,458.0 544.2,458.1 546.2,458.1 548.2,458.1 550.2,458.1 552.2,458.2 554.2,458.2 556.2,458.2 558.2,458.2 560.2,458.3 562.2,458.3 564.2,458.3 566.2,458.3 568.2,458.3 570.2,458.4 572.2,458.4 574.2,458.4 576.2,458.4 578.2,458.4 580.2,458.4 582.2,458.5 584.2,458.5 586.2,458.5 588.2,458.5 590.2,458.5" fill="none" stroke="#a15a3d" stroke-width="1.2" stroke-linecap="round" stroke-linejoin="round" stroke-opacity="0.8"/>
<path d="M332.2,456.7 334.2,456.6 336.2,456.5 338.2,456.4 340.2,456.3 342.2,456.1 344.2,456.0 346.2,455.8 348.2,455.7 350.2,455.5 352.2,455.3 354.2,455.1 356.2,454.8 358.2,454.6 360.2,454.3 362.2,453.9 364.2,453.6 366.2,453.2 368.2,452.7 370.2,452.2 372.2,451.6 374.2,450.9 376.2,450.0 378.2,449.0 380.2,447.9 382.2,446.5 384.2,444.9 385.2,444.0 386.2,443.0 387.2,441.9M388.2,440.7h0.01M389.2,439.5h0.01M390.2,438.1h0.01M391.2,436.8h0.01M392.2,435.3h0.01M393.2,433.9h0.01M394.2,432.4h0.01M395.2,430.8h0.01M396.2,429.3h0.01M397.2,427.8h0.01M398.2,426.3h0.01M399.2,424.8h0.01M400.2,423.3h0.01M401.2,421.9h0.01M402.2,420.5h0.01M403.2,419.1h0.01M404.2,417.7h0.01M405.2,416.4h0.01M406.2,415.0h0.01M407.2,413.8h0.01M408.2,412.5h0.01M409.2,411.3h0.01M410.2,410.0h0.01M411.2,408.9h0.01M412.2,407.7h0.01M413.2,406.5h0.01M414.2,405.4 415.2,404.3 416.2,403.2 417.2,402.2 418.2,401.2 419.2,400.2 420.2,399.2 421.2,398.3 422.2,397.5 423.2,396.6 424.2,395.8 426.2,394.2 428.2,392.7 430.2,391.3 432.2,389.8 434.2,388.4 436.2,386.9 438.2,385.5 440.2,384.1 442.2,382.7 444.2,381.4 446.2,380.0 448.2,378.7 450.2,377.4 452.2,376.1 454.2,374.8 456.2,373.5 458.2,372.2 460.2,370.9 462.2,369.7 464.2,368.4 466.2,367.1 468.2,365.9 470.2,364.6 472.2,363.3 474.2,362.0 476.2,360.7 478.2,359.4 480.2,358.1 482.2,356.8 484.2,355.6 486.2,354.3 488.2,353.1 490.2,352.0 492.2,350.8 494.2,349.7 496.2,348.6 498.2,347.5 500.2,346.4 502.2,345.3 504.2,344.2 506.2,343.2 508.2,342.2 510.2,341.2 512.2,340.2 514.2,339.2 516.2,338.2 518.2,337.2 520.2,336.2 522.2,335.1 524.2,334.0 526.2,332.9 528.2,331.8 530.2,330.6 532.2,329.5 534.2,328.3 536.2,327.0 538.2,325.8 540.2,324.5 542.2,323.3 544.2,322.0 546.2,320.6 548.2,319.2 550.2,317.7 551.2,316.8 552.2,315.9 553.2,315.0 554.2,314.1 555.2,313.2 556.2,312.1M557.2,311.0 557.2,311.5M556.2,312.7 555.2,313.8 554.2,314.8 553.2,315.8 552.2,316.7 551.2,317.6 550.2,318.4 548.2,320.0 546.2,321.4 544.2,322.8 542.2,324.1 540.2,325.4 538.2,326.7 536.2,327.9 534.2,329.2 532.2,330.4 530.2,331.6 528.2,332.7 526.2,333.9 524.2,335.0 522.2,336.1 520.2,337.2 518.2,338.2 516.2,339.3 514.2,340.3 512.2,341.3 510.2,342.3 508.2,343.4 506.2,344.4 504.2,345.5 502.2,346.6 500.2,347.7 498.2,348.9 496.2,350.0 494.2,351.2 492.2,352.4 490.2,353.6 488.2,354.8 486.2,356.1 484.2,357.4 482.2,358.8 480.2,360.1 478.2,361.5 476.2,362.8 474.2,364.2 472.2,365.5 470.2,366.8 468.2,368.1 466.2,369.5 464.2,370.8 462.2,372.1 460.2,373.5 458.2,374.8 456.2,376.2 454.2,377.6 452.2,379.0 450.2,380.3 448.2,381.8 446.2,383.2 444.2,384.7 442.2,386.2 440.2,387.7 438.2,389.2 436.2,390.8 434.2,392.4 433.2,393.2 432.2,394.0 431.2,394.9 430.2,395.7 429.2,396.6 428.2,397.6 427.2,398.5 426.2,399.6 425.2,400.7M424.2,401.8h0.01M423.2,403.0h0.01M422.2,404.3h0.01M421.2,405.6h0.01M420.2,407.0h0.01M419.2,408.4h0.01M418.2,409.9h0.01M417.2,411.5h0.01M416.2,413.1h0.01M415.2,414.9h0.01M414.2,416.8h0.01M413.2,418.8h0.01M412.2,421.1h0.01M411.2,423.6h0.01M410.2,426.7h0.01M409.2,431.8h0.01M409.2,438.1h0.01M410.2,441.8h0.01M411.2,443.9h0.01M412.2,445.3h0.01M413.2,446.5 414.2,447.4 416.2,448.9 418.2,450.0 420.2,450.9 422.2,451.7 424.2,452.3 426.2,452.8 428.2,453.3 430.2,453.7 432.2,454.1 434.2,454.4 436.2,454.7 438.2,454.9 440.2,455.2 442.2,455.4 444.2,455.6 446.2,455.8 448.2,455.9 450.2,456.1 452.2,456.2 454.2,456.4 456.2,456.5 458.2,456.6 460.2,456.7 462.2,456.8 464.2,456.9 466.2,457.0 468.2,457.1 470.2,457.1 472.2,457.2 474.2,457.3 476.2,457.4 478.2,457.4 480.2,457.5 482.2,457.5 484.2,457.6 486.2,457.7 488.2,457.7 490.2,457.8 492.2,457.8 494.2,457.8 496.2,457.9 498.2,457.9 500.2,458.0 502.2,458.0 504.2,458.0 506.2,458.1 508.2,458.1 510.2,458.2 512.2,458.2 514.2,458.2 516.2,458.2 518.2,458.3 520.2,458.3 522.2,458.3 524.2,458.4 526.2,458.4 528.2,458.4 530.2,458.4 532.2,458.5 534.2,458.5 536.2,458.5 538.2,458.5 540.2,458.5 542.2,458.6 544.2,458.6 546.2,458.6 548.2,458.6 550.2,458.6 552.2,458.7 554.2,458.7 556.2,458.7 558.2,458.7 560.2,458.7 562.2,458.7 564.2,458.7 566.2,458.8 568.2,458.8 570.2,458.8 572.2,458.8 574.2,458.8 576.2,458.8 578.2,458.8 580.2,458.9 582.2,458.9 584.2,458.9 586.2,458.9 588.2,458.9 590.2,458.9" fill="none" stroke="#4ea0da" stroke-width="1.2" stroke-linecap="round" stroke-linejoin="round" stroke-opacity="0.8"/>
<path d="M332.2,458.7 334.2,458.6 336.2,458.6 338.2,458.5 340.2,458.5 342.2,458.4 344.2,458.4 346.2,458.3 348.2,458.2 350.2,458.2 352.2,458.1 354.2,458.0 356.2,457.9 358.2,457.8 360.2,457.7 362.2,457.5 364.2,457.4 366.2,457.2 368.2,457.0 370.2,456.8 372.2,456.5 374.2,456.2 376.2,455.8 378.2,455.4 380.2,454.9 382.2,454.2 384.2,453.3 386.2,452.1 388.2,450.5 389.2,449.5M390.2,448.3h0.01M391.2,446.9h0.01M392.2,445.3h0.01M393.2,443.6h0.01M394.2,441.7h0.01M395.2,439.6h0.01M396.2,437.4h0.01M397.2,435.4h0.01M398.2,433.3h0.01M399.2,431.3h0.01M400.2,429.3h0.01M401.2,427.4h0.01M402.2,425.6h0.01M403.2,423.9h0.01M404.2,422.2h0.01M405.2,420.6h0.01M406.2,419.0h0.01M407.2,417.5h0.01M408.2,416.0h0.01M409.2,414.6h0.01M410.2,413.2h0.01M411.2,411.9h0.01M412.2,410.6h0.01M413.2,409.3h0.01M414.2,408.0h0.01M415.2,406.8h0.01M416.2,405.6h0.01M417.2,404.4h0.01M418.2,403.3 419.2,402.2 420.2,401.2 421.2,400.1 422.2,399.2 423.2,398.2 424.2,397.3 425.2,396.5 426.2,395.7 427.2,394.8 429.2,393.3 431.2,391.8 433.2,390.3 435.2,388.8 437.2,387.3 439.2,385.9 441.2,384.4 443.2,383.0 445.2,381.6 447.2,380.3 449.2,378.9 451.2,377.6 453.2,376.3 455.2,375.0 457.2,373.6 459.2,372.3 461.2,371.0 463.2,369.8 465.2,368.5 467.2,367.2 469.2,365.9 471.2,364.6 473.2,363.3 475.2,362.0 477.2,360.7 479.2,359.4 481.2,358.1 483.2,356.8 485.2,355.5 487.2,354.3 489.2,353.1 491.2,351.9 493.2,350.8 495.2,349.6 497.2,348.5 499.2,347.4 501.2,346.3 503.2,345.2 505.2,344.1 507.2,343.1 509.2,342.1 511.2,341.1 513.2,340.1 515.2,339.1 517.2,338.1 519.2,337.1 521.2,336.0 523.2,334.9 525.2,333.8 527.2,332.7 529.2,331.6 531.2,330.5 533.2,329.3 531.2,330.6 529.2,331.8 527.2,332.9 525.2,334.0 523.2,335.2 521.2,336.3 519.2,337.3 517.2,338.4 515.2,339.4 513.2,340.4 511.2,341.4 509.2,342.4 507.2,343.5 505.2,344.5 503.2,345.6 501.2,346.7 499.2,347.8 497.2,348.9 495.2,350.1 493.2,351.3 491.2,352.4 489.2,353.6 487.2,354.9 485.2,356.1 483.2,357.4 481.2,358.8 479.2,360.1 477.2,361.4 475.2,362.8 473.2,364.1 471.2,365.4 469.2,366.7 467.2,368.0 465.2,369.4 463.2,370.7 461.2,372.0 459.2,373.3 457.2,374.6 455.2,376.0 453.2,377.3 451.2,378.7 449.2,380.1 447.2,381.5 445.2,382.9 443.2,384.3 441.2,385.8 439.2,387.3 437.2,388.8 435.2,390.3 433.2,391.9 431.2,393.4 430.2,394.2 429.2,395.1 428.2,395.9 427.2,396.8 426.2,397.7 425.2,398.6 424.2,399.7 423.2,400.7 422.2,401.8M421.2,402.9h0.01M420.2,404.1h0.01M419.2,405.4h0.01M418.2,406.7h0.01M417.2,408.0h0.01M416.2,409.4h0.01M415.2,410.8h0.01M414.2,412.3h0.01M413.2,413.8h0.01M412.2,415.4h0.01M411.2,417.1h0.01M410.2,418.9h0.01M409.2,420.8h0.01M408.2,422.9h0.01M407.2,425.1h0.01M406.2,427.5h0.01M405.2,430.5h0.01M404.2,434.3h0.01M404.2,447.2h0.01M405.2,449.3h0.01M406.2,450.6 407.2,451.7 409.2,453.1 411.2,454.1 413.2,454.8 415.2,455.4 417.2,455.9 419.2,456.2 421.2,456.5 423.2,456.8 425.2,457.0 427.2,457.2 429.2,457.4 431.2,457.5 433.2,457.7 435.2,457.8 437.2,457.9 439.2,458.0 441.2,458.1 443.2,458.2 445.2,458.3 447.2,458.3 449.2,458.4 451.2,458.4 453.2,458.5 455.2,458.6 457.2,458.6 459.2,458.6 461.2,458.7 463.2,458.7 465.2,458.8 467.2,458.8 469.2,458.8 471.2,458.9 473.2,458.9 475.2,458.9 477.2,458.9 479.2,459.0 481.2,459.0 483.2,459.0 485.2,459.0 487.2,459.1 489.2,459.1 491.2,459.1 493.2,459.1 495.2,459.1 497.2,459.2 499.2,459.2 501.2,459.2 503.2,459.2 505.2,459.2 507.2,459.2 509.2,459.2 511.2,459.3 513.2,459.3 515.2,459.3 517.2,459.3 519.2,459.3 521.2,459.3 523.2,459.3 525.2,459.3 527.2,459.3 529.2,459.4 531.2,459.4 533.2,459.4 535.2,459.4 537.2,459.4 539.2,459.4 541.2,459.4 543.2,459.4 545.2,459.4 547.2,459.4 549.2,459.4 551.2,459.5 553.2,459.5 555.2,459.5 557.2,459.5 559.2,459.5 561.2,459.5 563.2,459.5 565.2,459.5 567.2,459.5 569.2,459.5 571.2,459.5 573.2,459.5 575.2,459.5 577.2,459.5 579.2,459.5 581.2,459.5 583.2,459.5 585.2,459.5 587.2,459.6 589.2,459.6 590.2,459.6" fill="none" stroke="#d9574f" stroke-width="1.2" stroke-linecap="round" stroke-linejoin="round" stroke-opacity="0.8"/>
<path d="M332.2,459.3 334.2,459.3 336.2,459.3 338.2,459.3 340.2,459.3 342.2,459.2 344.2,459.2 346.2,459.2 348.2,459.1 350.2,459.1 352.2,459.1 354.2,459.0 356.2,459.0 358.2,458.9 360.2,458.8 362.2,458.8 364.2,458.7 366.2,458.6 368.2,458.5 370.2,458.4 372.2,458.3 374.2,458.1 376.2,457.9 378.2,457.7 380.2,457.4 382.2,457.1 384.2,456.6 386.2,456.0 388.2,455.1 390.2,453.7 391.2,452.7M392.2,451.4h0.01M393.2,449.7h0.01M394.2,447.6h0.01M395.2,445.2h0.01M396.2,442.7h0.01M397.2,440.0h0.01M398.2,437.3h0.01M399.2,434.9h0.01M400.2,432.5h0.01M401.2,430.3h0.01M402.2,428.2h0.01M403.2,426.2h0.01M404.2,424.4h0.01M405.2,422.6h0.01M406.2,420.9h0.01M407.2,419.2h0.01M408.2,417.7h0.01M409.2,416.1h0.01M410.2,414.7h0.01M411.2,413.3h0.01M412.2,411.9h0.01M413.2,410.5h0.01M414.2,409.2h0.01M415.2,408.0h0.01M416.2,406.7h0.01M417.2,405.5h0.01M418.2,404.3h0.01M419.2,403.2 420.2,402.1 421.2,401.1 422.2,400.0 423.2,399.1 424.2,398.1 425.2,397.3 426.2,396.4 427.2,395.6 428.2,394.8 430.2,393.2 432.2,391.7 434.2,390.2 433.2,391.1 431.2,392.7 430.2,393.5 429.2,394.3 428.2,395.2 427.2,396.0 426.2,396.9 425.2,397.8 424.2,398.8 423.2,399.8 422.2,400.8 421.2,401.9M420.2,403.0h0.01M419.2,404.2h0.01M418.2,405.5h0.01M417.2,406.7h0.01M416.2,408.1h0.01M415.2,409.4h0.01M414.2,410.8h0.01M413.2,412.3h0.01M412.2,413.8h0.01M411.2,415.3h0.01M410.2,416.9h0.01M409.2,418.7h0.01M408.2,420.5h0.01M407.2,422.4h0.01M406.2,424.4h0.01M405.2,426.6h0.01M404.2,429.1h0.01M403.2,432.0h0.01M402.2,435.3h0.01M401.2,440.1h0.01M401.2,449.5h0.01M402.2,452.0h0.01M403.2,453.4 404.2,454.4 406.2,455.6 408.2,456.4 410.2,456.9 412.2,457.3 414.2,457.6 416.2,457.9 418.2,458.1 420.2,458.2 422.2,458.4 424.2,458.5 426.2,458.6 428.2,458.7 430.2,458.8 432.2,458.8 434.2,458.9 436.2,458.9 438.2,459.0 440.2,459.0 442.2,459.1 444.2,459.1 446.2,459.2 448.2,459.2 450.2,459.2 452.2,459.2 454.2,459.3 456.2,459.3 458.2,459.3 460.2,459.3 462.2,459.4 464.2,459.4 466.2,459.4 468.2,459.4 470.2,459.4 472.2,459.4 474.2,459.5 476.2,459.5 478.2,459.5 480.2,459.5 482.2,459.5 484.2,459.5 486.2,459.5 488.2,459.5 490.2,459.6 492.2,459.6 494.2,459.6 496.2,459.6 498.2,459.6 500.2,459.6 502.2,459.6 504.2,459.6 506.2,459.6 508.2,459.6 510.2,459.6 512.2,459.6 514.2,459.6 516.2,459.6 518.2,459.7 520.2,459.7 522.2,459.7 524.2,459.7 526.2,459.7 528.2,459.7 530.2,459.7 532.2,459.7 534.2,459.7 536.2,459.7 538.2,459.7 540.2,459.7 542.2,459.7 544.2,459.7 546.2,459.7 548.2,459.7 550.2,459.7 552.2,459.7 554.2,459.7 556.2,459.7 558.2,459.7 560.2,459.7 562.2,459.7 564.2,459.7 566.2,459.8 568.2,459.8 570.2,459.8 572.2,459.8 574.2,459.8 576.2,459.8 578.2,459.8 580.2,459.8 582.2,459.8 584.2,459.8 586.2,459.8 588.2,459.8 590.2,459.8" fill="none" stroke="#4fb983" stroke-width="1.2" stroke-linecap="round" stroke-linejoin="round" stroke-opacity="0.8"/>
</g>
<line x1="450.2" y1="416" x2="436.62" y2="398.19" stroke="#5cc08e" stroke-width="1.3" />
<path d="M434.8,395.8 L438.86,397.99 L435.84,400.29 Z" fill="#5cc08e"/>
<line x1="533.4" y1="359.7" x2="533.4" y2="338.5" stroke="#d9625d" stroke-width="1.3" />
<path d="M533.4,335.5 L535.3,339.7 L531.5,339.7 Z" fill="#d9625d"/>
<text x="453.6" y="432.2" font-size="9.6" fill="#52bb86" text-anchor="start" font-weight="normal" >50.32 kHz</text>
<text x="506" y="374.8" font-size="9.6" fill="#d8625d" text-anchor="start" font-weight="normal" >50.493 kHz</text>
<text x="506" y="292.6" font-size="9.6" fill="#f6ae9d" text-anchor="start" font-weight="normal" >50.542 kHz</text>
<text x="602.6" y="49.1" font-size="10.6" fill="#1a1a1a" text-anchor="start" font-weight="bold" >Device A</text>
<line x1="604" y1="65.8" x2="627" y2="65.8" stroke="#4fb983" stroke-width="1.9" stroke-opacity="0.55"/>
<text x="632.5" y="69.1" font-size="11" fill="#333333">200 mV<tspan font-size="8.6" dy="2.7">ac</tspan></text>
<line x1="604" y1="78.3" x2="627" y2="78.3" stroke="#d9574f" stroke-width="1.3" stroke-opacity="0.8"/>
<text x="632.5" y="82.2" font-size="11" fill="#333333">300 mV<tspan font-size="8.6" dy="2.7">ac</tspan></text>
<line x1="604" y1="92.2" x2="627" y2="92.2" stroke="#7650c0" stroke-width="1.3" stroke-opacity="0.8"/>
<text x="632.5" y="95.8" font-size="11" fill="#333333">400 mV<tspan font-size="8.6" dy="2.7">ac</tspan></text>
<line x1="604" y1="104.4" x2="627" y2="104.4" stroke="#f0c050" stroke-width="1.3" stroke-opacity="0.8"/>
<text x="632.5" y="109.7" font-size="11" fill="#333333">800 mV<tspan font-size="8.6" dy="2.7">ac</tspan></text>
<line x1="604" y1="117" x2="627" y2="117" stroke="#f8b2a2" stroke-width="1.3" stroke-opacity="0.8"/>
<text x="632.5" y="123.4" font-size="11" fill="#333333">1000 mV<tspan font-size="8.6" dy="2.7">ac</tspan></text>
<line x1="604" y1="132.5" x2="627" y2="132.5" stroke="#a15a3d" stroke-width="1.3" stroke-opacity="0.8"/>
<text x="632.5" y="136.9" font-size="11" fill="#333333">1500 mV<tspan font-size="8.6" dy="2.7">ac</tspan></text>
<line x1="604" y1="148.2" x2="627" y2="148.2" stroke="#4ea0da" stroke-width="1.3" stroke-opacity="0.8"/>
<text x="632.5" y="150.8" font-size="11" fill="#333333">2000 mV<tspan font-size="8.6" dy="2.7">ac</tspan></text>
<text x="602.6" y="321.3" font-size="10.6" fill="#1a1a1a" text-anchor="start" font-weight="bold" >Device B</text>
<line x1="603.4" y1="335.6" x2="626.1" y2="335.6" stroke="#4fb983" stroke-width="1.6" stroke-opacity="0.75"/>
<text x="631.9" y="338.9" font-size="11" fill="#333333">200 mV<tspan font-size="8.6" dy="2.7">ac</tspan></text>
<line x1="603.4" y1="348.8" x2="626.1" y2="348.8" stroke="#d9574f" stroke-width="1.4" stroke-opacity="0.8"/>
<text x="631.9" y="351.9" font-size="11" fill="#333333">400 mV<tspan font-size="8.6" dy="2.7">ac</tspan></text>
<line x1="603.4" y1="361.9" x2="626.1" y2="361.9" stroke="#4ea0da" stroke-width="1.4" stroke-opacity="0.8"/>
<text x="631.9" y="364.4" font-size="11" fill="#333333">600 mV<tspan font-size="8.6" dy="2.7">ac</tspan></text>
<line x1="603.4" y1="375" x2="626.1" y2="375" stroke="#a15a3d" stroke-width="1.4" stroke-opacity="0.8"/>
<text x="631.9" y="377.6" font-size="11" fill="#333333">1000 mV<tspan font-size="8.6" dy="2.7">ac</tspan></text>
<line x1="603.4" y1="387.9" x2="626.1" y2="387.9" stroke="#f0c050" stroke-width="1.4" stroke-opacity="0.8"/>
<text x="631.9" y="390.7" font-size="11" fill="#333333">2000 mV<tspan font-size="8.6" dy="2.7">ac</tspan></text>
<line x1="603.4" y1="401.2" x2="626.1" y2="401.2" stroke="#f8b2a2" stroke-width="1.4" stroke-opacity="0.8"/>
<text x="631.9" y="403.4" font-size="11" fill="#333333">4000 mV<tspan font-size="8.6" dy="2.7">ac</tspan></text>
</g>
</svg>
</body></html>
